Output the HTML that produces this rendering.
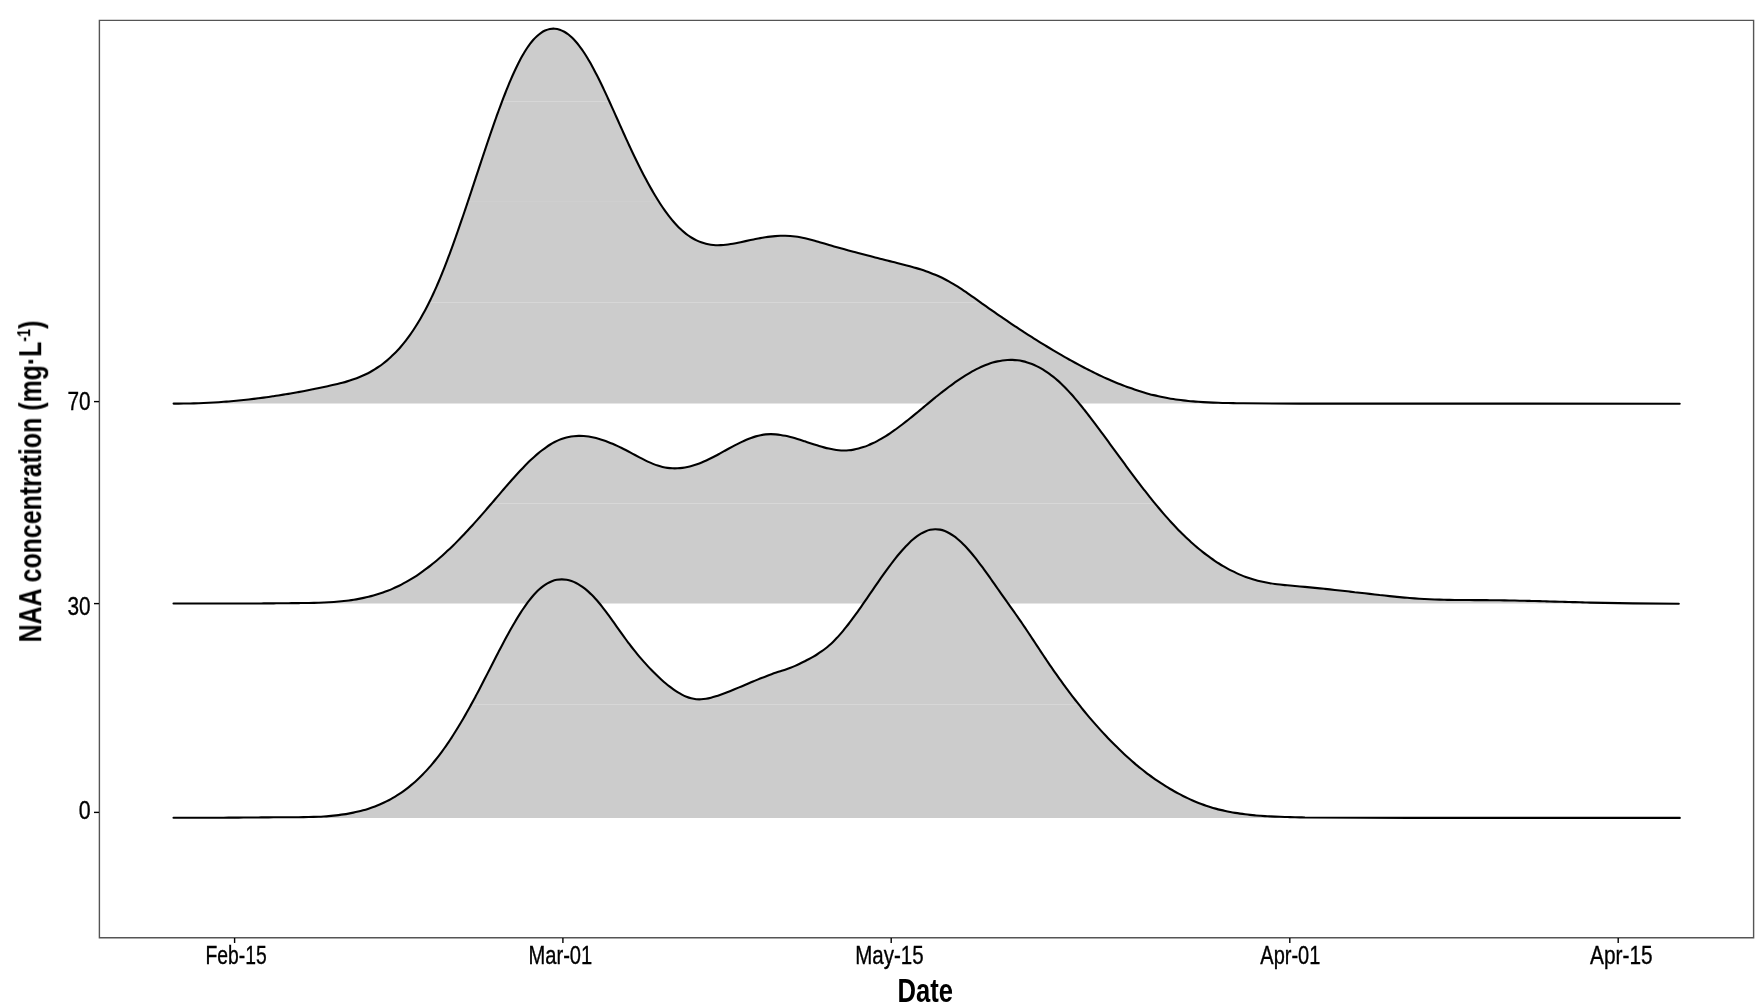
<!DOCTYPE html>
<html><head><meta charset="utf-8"><style>
html,body{margin:0;padding:0;background:#fff;width:1763px;height:1004px;overflow:hidden}
svg{display:block}
text{font-family:"Liberation Sans", sans-serif;fill:#000}
.t{will-change:transform}
</style></head><body>
<svg width="1763" height="1004" viewBox="0 0 1763 1004">
<defs>
<path id="ft" d="M173.60,403.60 C174.44,403.60 176.94,403.60 178.61,403.60 C180.28,403.60 181.95,403.59 183.62,403.57 C185.29,403.55 186.97,403.53 188.64,403.50 C190.31,403.46 191.98,403.43 193.65,403.38 C195.32,403.33 196.99,403.28 198.66,403.22 C200.33,403.16 202.00,403.09 203.66,403.02 C205.33,402.95 207.00,402.87 208.67,402.78 C210.34,402.69 212.01,402.60 213.68,402.50 C215.34,402.40 217.01,402.29 218.68,402.18 C220.34,402.07 222.01,401.95 223.68,401.82 C225.34,401.70 227.01,401.57 228.67,401.43 C230.34,401.29 232.00,401.14 233.67,400.99 C235.33,400.84 236.99,400.68 238.66,400.52 C240.32,400.36 241.98,400.19 243.64,400.01 C245.30,399.83 246.96,399.65 248.62,399.46 C250.28,399.27 251.94,399.08 253.60,398.88 C255.26,398.68 256.92,398.47 258.58,398.26 C260.23,398.05 261.89,397.83 263.55,397.61 C265.20,397.39 266.86,397.16 268.51,396.92 C270.17,396.69 271.82,396.45 273.47,396.20 C275.12,395.95 276.78,395.70 278.43,395.45 C280.08,395.19 281.73,394.93 283.38,394.66 C285.03,394.39 286.67,394.12 288.32,393.84 C289.97,393.56 291.61,393.27 293.26,392.98 C294.91,392.69 296.55,392.40 298.19,392.10 C299.84,391.80 301.48,391.49 303.12,391.18 C304.76,390.87 306.40,390.56 308.04,390.24 C309.68,389.92 311.32,389.59 312.96,389.26 C314.60,388.93 316.23,388.60 317.87,388.26 C319.51,387.92 321.14,387.57 322.77,387.22 C324.41,386.88 326.04,386.52 327.67,386.16 C329.30,385.80 330.94,385.44 332.56,385.07 C334.19,384.70 335.82,384.32 337.45,383.93 C339.07,383.54 340.69,383.14 342.31,382.71 C343.92,382.28 345.53,381.84 347.14,381.37 C348.74,380.89 350.34,380.40 351.92,379.87 C353.51,379.35 355.08,378.80 356.65,378.21 C358.21,377.62 359.76,377.00 361.30,376.34 C362.83,375.69 364.36,374.99 365.86,374.26 C367.36,373.54 368.85,372.77 370.31,371.97 C371.78,371.17 373.22,370.32 374.65,369.45 C376.07,368.57 377.47,367.66 378.85,366.72 C380.22,365.77 381.58,364.79 382.90,363.77 C384.23,362.76 385.54,361.72 386.82,360.64 C388.10,359.57 389.35,358.46 390.58,357.33 C391.81,356.20 393.01,355.04 394.20,353.86 C395.38,352.68 396.53,351.47 397.67,350.25 C398.80,349.02 399.91,347.77 401.00,346.50 C402.09,345.24 403.15,343.95 404.20,342.64 C405.24,341.34 406.27,340.02 407.27,338.68 C408.27,337.35 409.25,336.00 410.22,334.63 C411.19,333.27 412.13,331.89 413.06,330.50 C413.99,329.12 414.90,327.71 415.79,326.30 C416.69,324.89 417.57,323.47 418.43,322.04 C419.29,320.61 420.14,319.17 420.97,317.72 C421.80,316.27 422.62,314.82 423.43,313.35 C424.23,311.89 425.02,310.41 425.80,308.94 C426.58,307.46 427.35,305.97 428.10,304.48 C428.86,302.99 429.60,301.49 430.33,299.99 C431.06,298.49 431.78,296.98 432.49,295.47 C433.20,293.96 433.90,292.44 434.59,290.92 C435.28,289.40 435.96,287.87 436.63,286.34 C437.30,284.81 437.96,283.27 438.61,281.74 C439.26,280.20 439.91,278.66 440.55,277.11 C441.18,275.57 441.81,274.02 442.44,272.47 C443.06,270.92 443.68,269.37 444.29,267.82 C444.90,266.26 445.51,264.70 446.11,263.14 C446.71,261.59 447.31,260.02 447.90,258.46 C448.49,256.90 449.08,255.33 449.66,253.77 C450.24,252.20 450.82,250.64 451.39,249.07 C451.97,247.50 452.54,245.93 453.11,244.36 C453.67,242.78 454.24,241.21 454.80,239.64 C455.36,238.06 455.92,236.49 456.47,234.91 C457.03,233.34 457.58,231.76 458.13,230.18 C458.68,228.61 459.23,227.03 459.77,225.45 C460.32,223.87 460.86,222.29 461.40,220.71 C461.95,219.13 462.49,217.55 463.02,215.97 C463.56,214.38 464.10,212.80 464.63,211.22 C465.17,209.64 465.70,208.05 466.23,206.47 C466.77,204.89 467.30,203.30 467.83,201.72 C468.36,200.13 468.89,198.55 469.41,196.96 C469.94,195.38 470.47,193.79 471.00,192.21 C471.52,190.62 472.05,189.04 472.57,187.45 C473.10,185.86 473.62,184.28 474.15,182.69 C474.67,181.11 475.20,179.52 475.72,177.93 C476.25,176.35 476.77,174.76 477.30,173.17 C477.82,171.59 478.35,170.00 478.87,168.42 C479.40,166.83 479.92,165.24 480.45,163.66 C480.97,162.07 481.50,160.49 482.02,158.90 C482.55,157.31 483.08,155.73 483.61,154.14 C484.14,152.56 484.67,150.97 485.20,149.39 C485.73,147.81 486.26,146.22 486.79,144.64 C487.33,143.06 487.86,141.47 488.40,139.89 C488.93,138.31 489.47,136.73 490.01,135.15 C490.55,133.57 491.10,131.99 491.64,130.41 C492.19,128.83 492.73,127.25 493.29,125.67 C493.84,124.09 494.39,122.52 494.95,120.94 C495.50,119.37 496.06,117.79 496.62,116.22 C497.19,114.65 497.75,113.07 498.33,111.50 C498.90,109.93 499.47,108.37 500.05,106.80 C500.63,105.23 501.21,103.67 501.80,102.10 C502.39,100.54 502.99,98.98 503.59,97.42 C504.19,95.86 504.79,94.30 505.41,92.75 C506.02,91.19 506.64,89.64 507.27,88.09 C507.89,86.55 508.53,85.00 509.17,83.46 C509.82,81.92 510.47,80.38 511.13,78.84 C511.79,77.31 512.46,75.78 513.15,74.26 C513.83,72.73 514.52,71.21 515.23,69.70 C515.94,68.19 516.66,66.68 517.40,65.18 C518.14,63.68 518.89,62.19 519.67,60.71 C520.44,59.23 521.23,57.76 522.05,56.30 C522.87,54.84 523.70,53.39 524.57,51.97 C525.44,50.54 526.33,49.13 527.27,47.75 C528.21,46.36 529.17,45.00 530.19,43.67 C531.21,42.35 532.25,41.04 533.36,39.80 C534.48,38.55 535.64,37.34 536.87,36.22 C538.11,35.10 539.39,34.00 540.76,33.06 C542.13,32.12 543.58,31.24 545.10,30.56 C546.61,29.89 548.23,29.32 549.85,29.01 C551.47,28.71 553.19,28.60 554.83,28.71 C556.48,28.83 558.16,29.19 559.73,29.70 C561.31,30.21 562.84,30.95 564.29,31.75 C565.75,32.56 567.13,33.53 568.45,34.54 C569.78,35.55 571.02,36.68 572.23,37.83 C573.43,38.99 574.58,40.21 575.69,41.46 C576.80,42.71 577.85,44.01 578.87,45.33 C579.90,46.64 580.89,47.99 581.85,49.36 C582.81,50.73 583.73,52.12 584.64,53.52 C585.55,54.92 586.43,56.34 587.29,57.77 C588.16,59.20 589.00,60.65 589.83,62.10 C590.66,63.55 591.47,65.01 592.28,66.47 C593.08,67.94 593.86,69.41 594.64,70.89 C595.42,72.37 596.18,73.85 596.94,75.34 C597.70,76.83 598.45,78.33 599.19,79.83 C599.93,81.32 600.66,82.82 601.39,84.33 C602.11,85.83 602.83,87.34 603.55,88.85 C604.26,90.36 604.97,91.87 605.68,93.39 C606.38,94.90 607.08,96.42 607.78,97.94 C608.48,99.46 609.17,100.98 609.86,102.50 C610.55,104.02 611.24,105.54 611.93,107.07 C612.61,108.59 613.30,110.11 613.98,111.64 C614.66,113.16 615.34,114.69 616.03,116.21 C616.71,117.74 617.39,119.26 618.07,120.79 C618.75,122.31 619.43,123.84 620.11,125.37 C620.80,126.89 621.48,128.42 622.16,129.94 C622.85,131.46 623.53,132.99 624.22,134.51 C624.91,136.03 625.60,137.55 626.29,139.08 C626.98,140.60 627.68,142.11 628.38,143.63 C629.08,145.15 629.78,146.66 630.49,148.18 C631.20,149.69 631.91,151.20 632.62,152.71 C633.34,154.22 634.06,155.73 634.79,157.23 C635.51,158.74 636.24,160.24 636.98,161.74 C637.72,163.24 638.46,164.74 639.21,166.23 C639.95,167.73 640.71,169.22 641.47,170.70 C642.23,172.19 642.99,173.68 643.77,175.16 C644.54,176.64 645.32,178.11 646.11,179.59 C646.90,181.06 647.70,182.53 648.51,183.99 C649.31,185.45 650.13,186.91 650.95,188.37 C651.78,189.82 652.61,191.27 653.46,192.71 C654.30,194.15 655.16,195.58 656.03,197.01 C656.89,198.44 657.77,199.86 658.67,201.27 C659.56,202.68 660.47,204.08 661.39,205.48 C662.32,206.87 663.26,208.25 664.21,209.62 C665.17,210.99 666.14,212.35 667.14,213.69 C668.13,215.03 669.15,216.36 670.18,217.67 C671.22,218.98 672.28,220.27 673.37,221.54 C674.46,222.80 675.57,224.05 676.72,225.27 C677.87,226.48 679.04,227.67 680.26,228.82 C681.47,229.97 682.71,231.08 684.00,232.15 C685.28,233.22 686.59,234.26 687.95,235.23 C689.30,236.21 690.70,237.13 692.13,238.00 C693.56,238.86 695.03,239.67 696.53,240.40 C698.03,241.12 699.58,241.77 701.14,242.35 C702.71,242.92 704.31,243.42 705.93,243.82 C707.55,244.22 709.20,244.52 710.85,244.75 C712.50,244.98 714.18,245.12 715.84,245.18 C717.51,245.25 719.19,245.22 720.85,245.15 C722.52,245.07 724.19,244.93 725.85,244.75 C727.51,244.57 729.16,244.32 730.81,244.06 C732.46,243.80 734.11,243.49 735.75,243.18 C737.39,242.86 739.02,242.52 740.66,242.17 C742.29,241.83 743.92,241.47 745.56,241.12 C747.19,240.77 748.82,240.42 750.46,240.08 C752.10,239.74 753.73,239.40 755.37,239.08 C757.01,238.76 758.65,238.44 760.30,238.15 C761.94,237.86 763.59,237.57 765.24,237.32 C766.89,237.07 768.55,236.83 770.20,236.63 C771.86,236.43 773.52,236.25 775.19,236.11 C776.85,235.97 778.52,235.86 780.19,235.80 C781.86,235.74 783.53,235.71 785.20,235.73 C786.87,235.75 788.54,235.82 790.21,235.94 C791.87,236.06 793.54,236.23 795.19,236.45 C796.85,236.67 798.50,236.94 800.14,237.24 C801.78,237.55 803.42,237.90 805.05,238.27 C806.68,238.64 808.30,239.05 809.92,239.46 C811.53,239.88 813.14,240.33 814.75,240.78 C816.36,241.23 817.96,241.71 819.57,242.18 C821.17,242.64 822.77,243.13 824.37,243.60 C825.97,244.07 827.58,244.54 829.18,245.01 C830.79,245.48 832.39,245.94 834.00,246.40 C835.60,246.85 837.21,247.31 838.82,247.76 C840.43,248.21 842.04,248.66 843.65,249.10 C845.26,249.54 846.87,249.98 848.49,250.42 C850.10,250.86 851.71,251.29 853.33,251.72 C854.94,252.16 856.55,252.59 858.17,253.01 C859.78,253.44 861.40,253.86 863.02,254.29 C864.63,254.71 866.25,255.13 867.87,255.55 C869.49,255.96 871.10,256.38 872.72,256.80 C874.34,257.21 875.96,257.63 877.58,258.04 C879.20,258.45 880.82,258.86 882.44,259.27 C884.05,259.69 885.67,260.10 887.29,260.50 C888.91,260.91 890.53,261.32 892.15,261.73 C893.77,262.14 895.39,262.55 897.01,262.96 C898.63,263.37 900.25,263.78 901.87,264.19 C903.49,264.61 905.11,265.02 906.72,265.45 C908.34,265.88 909.95,266.31 911.56,266.76 C913.17,267.20 914.78,267.66 916.38,268.13 C917.98,268.61 919.58,269.10 921.17,269.61 C922.76,270.11 924.35,270.64 925.93,271.19 C927.51,271.74 929.08,272.31 930.64,272.90 C932.20,273.50 933.75,274.12 935.29,274.76 C936.83,275.41 938.36,276.08 939.88,276.78 C941.40,277.48 942.90,278.21 944.39,278.96 C945.88,279.72 947.36,280.50 948.82,281.31 C950.28,282.12 951.72,282.96 953.16,283.82 C954.59,284.68 956.01,285.56 957.42,286.45 C958.84,287.34 960.24,288.26 961.63,289.18 C963.02,290.10 964.41,291.04 965.79,291.98 C967.16,292.92 968.54,293.88 969.90,294.83 C971.27,295.79 972.64,296.76 974.00,297.73 C975.36,298.69 976.72,299.67 978.08,300.64 C979.44,301.61 980.80,302.58 982.16,303.55 C983.52,304.52 984.88,305.49 986.24,306.45 C987.61,307.42 988.97,308.38 990.34,309.34 C991.71,310.30 993.08,311.26 994.45,312.21 C995.82,313.16 997.19,314.12 998.57,315.06 C999.95,316.01 1001.32,316.96 1002.70,317.90 C1004.08,318.84 1005.46,319.78 1006.85,320.72 C1008.23,321.66 1009.62,322.59 1011.00,323.52 C1012.39,324.45 1013.78,325.38 1015.17,326.30 C1016.56,327.23 1017.96,328.15 1019.36,329.06 C1020.75,329.98 1022.15,330.89 1023.55,331.80 C1024.95,332.71 1026.36,333.62 1027.76,334.52 C1029.17,335.43 1030.58,336.33 1031.99,337.22 C1033.40,338.12 1034.81,339.01 1036.23,339.90 C1037.64,340.78 1039.06,341.67 1040.48,342.55 C1041.90,343.42 1043.32,344.30 1044.75,345.17 C1046.18,346.04 1047.60,346.91 1049.04,347.77 C1050.47,348.63 1051.90,349.49 1053.34,350.34 C1054.77,351.20 1056.21,352.05 1057.65,352.89 C1059.10,353.73 1060.54,354.57 1061.99,355.41 C1063.43,356.24 1064.89,357.07 1066.34,357.90 C1067.79,358.72 1069.25,359.54 1070.71,360.35 C1072.17,361.16 1073.63,361.97 1075.10,362.77 C1076.57,363.57 1078.04,364.36 1079.51,365.15 C1080.98,365.93 1082.46,366.71 1083.94,367.49 C1085.43,368.26 1086.91,369.02 1088.40,369.78 C1089.89,370.54 1091.38,371.29 1092.88,372.03 C1094.38,372.77 1095.88,373.50 1097.39,374.22 C1098.89,374.95 1100.40,375.66 1101.92,376.37 C1103.43,377.07 1104.95,377.77 1106.48,378.45 C1108.00,379.13 1109.53,379.81 1111.06,380.47 C1112.60,381.13 1114.13,381.79 1115.68,382.43 C1117.22,383.07 1118.77,383.70 1120.32,384.31 C1121.87,384.93 1123.43,385.54 1124.99,386.13 C1126.56,386.72 1128.12,387.29 1129.70,387.86 C1131.27,388.42 1132.85,388.97 1134.43,389.50 C1136.01,390.04 1137.60,390.56 1139.19,391.06 C1140.79,391.56 1142.39,392.05 1143.99,392.53 C1145.59,393.00 1147.20,393.45 1148.81,393.89 C1150.42,394.32 1152.04,394.74 1153.66,395.14 C1155.29,395.54 1156.91,395.92 1158.54,396.29 C1160.17,396.65 1161.81,396.99 1163.45,397.32 C1165.09,397.64 1166.73,397.95 1168.38,398.24 C1170.02,398.53 1171.67,398.80 1173.32,399.06 C1174.97,399.32 1176.62,399.56 1178.28,399.78 C1179.94,400.01 1181.59,400.22 1183.25,400.41 C1184.91,400.61 1186.57,400.79 1188.23,400.96 C1189.90,401.13 1191.56,401.28 1193.22,401.42 C1194.89,401.57 1196.56,401.70 1198.22,401.82 C1199.89,401.94 1201.56,402.05 1203.22,402.15 C1204.89,402.25 1206.56,402.34 1208.23,402.42 C1209.90,402.50 1211.57,402.57 1213.23,402.64 C1214.90,402.70 1216.57,402.76 1218.24,402.81 C1219.91,402.87 1221.58,402.91 1223.25,402.95 C1224.92,403.00 1226.59,403.03 1228.27,403.07 C1229.94,403.10 1231.61,403.13 1233.28,403.16 C1234.95,403.18 1236.62,403.21 1238.29,403.23 C1239.96,403.26 1242.46,403.29 1243.30,403.30 L1300.00,403.60 L1679.70,403.70 L1679.7,403.6 L173.6,403.6 Z"/><path id="fm" d="M173.50,603.50 C174.34,603.50 176.84,603.50 178.51,603.50 C180.18,603.50 181.86,603.50 183.53,603.50 C185.20,603.50 186.87,603.50 188.54,603.50 C190.21,603.50 191.88,603.50 193.55,603.50 C195.23,603.50 196.90,603.50 198.57,603.50 C200.24,603.50 201.91,603.50 203.58,603.50 C205.25,603.50 206.92,603.50 208.59,603.50 C210.27,603.50 211.94,603.50 213.61,603.50 C215.28,603.50 216.95,603.50 218.62,603.50 C220.29,603.50 221.96,603.50 223.64,603.50 C225.31,603.50 226.98,603.50 228.65,603.50 C230.32,603.50 231.99,603.50 233.66,603.50 C235.33,603.50 237.00,603.50 238.68,603.50 C240.35,603.50 242.02,603.50 243.69,603.50 C245.36,603.50 247.03,603.50 248.70,603.50 C250.37,603.50 252.05,603.49 253.72,603.48 C255.39,603.47 257.06,603.46 258.73,603.45 C260.40,603.44 262.07,603.43 263.74,603.42 C265.41,603.40 267.09,603.39 268.76,603.38 C270.43,603.37 272.10,603.35 273.77,603.34 C275.44,603.33 277.11,603.31 278.78,603.30 C280.45,603.28 282.13,603.26 283.80,603.25 C285.47,603.23 287.14,603.21 288.81,603.20 C290.48,603.18 292.15,603.16 293.82,603.14 C295.49,603.12 297.17,603.10 298.84,603.08 C300.51,603.06 302.18,603.05 303.85,603.02 C305.52,603.00 307.19,602.98 308.86,602.95 C310.53,602.92 312.20,602.89 313.88,602.85 C315.55,602.81 317.22,602.76 318.89,602.71 C320.56,602.65 322.23,602.59 323.90,602.52 C325.57,602.45 327.24,602.37 328.90,602.28 C330.57,602.18 332.24,602.08 333.91,601.96 C335.57,601.84 337.24,601.70 338.90,601.55 C340.57,601.40 342.23,601.24 343.89,601.06 C345.55,600.87 347.21,600.67 348.87,600.45 C350.53,600.23 352.18,599.99 353.83,599.73 C355.48,599.47 357.13,599.19 358.77,598.89 C360.42,598.58 362.06,598.25 363.69,597.90 C365.32,597.55 366.95,597.18 368.58,596.78 C370.20,596.38 371.82,595.96 373.42,595.51 C375.03,595.06 376.64,594.58 378.23,594.08 C379.82,593.58 381.41,593.05 382.99,592.50 C384.56,591.94 386.13,591.36 387.69,590.75 C389.24,590.14 390.79,589.51 392.32,588.85 C393.86,588.19 395.38,587.50 396.89,586.78 C398.40,586.07 399.90,585.33 401.39,584.56 C402.87,583.80 404.34,583.00 405.80,582.19 C407.26,581.37 408.71,580.53 410.14,579.67 C411.57,578.81 412.99,577.93 414.40,577.03 C415.81,576.13 417.20,575.21 418.58,574.27 C419.96,573.33 421.33,572.37 422.69,571.39 C424.05,570.42 425.39,569.43 426.73,568.42 C428.06,567.42 429.39,566.39 430.70,565.36 C432.01,564.32 433.31,563.27 434.60,562.21 C435.89,561.15 437.17,560.07 438.44,558.98 C439.70,557.90 440.96,556.79 442.21,555.68 C443.46,554.57 444.70,553.45 445.93,552.32 C447.16,551.19 448.37,550.04 449.59,548.89 C450.80,547.74 452.00,546.58 453.19,545.41 C454.38,544.24 455.57,543.06 456.75,541.87 C457.92,540.69 459.09,539.49 460.26,538.29 C461.42,537.09 462.57,535.88 463.72,534.67 C464.87,533.46 466.02,532.24 467.16,531.02 C468.29,529.79 469.43,528.57 470.56,527.33 C471.68,526.10 472.81,524.86 473.92,523.62 C475.04,522.38 476.16,521.13 477.27,519.88 C478.38,518.64 479.48,517.38 480.59,516.13 C481.69,514.87 482.79,513.61 483.89,512.35 C484.99,511.09 486.08,509.83 487.17,508.56 C488.26,507.30 489.35,506.03 490.44,504.76 C491.53,503.49 492.61,502.22 493.70,500.95 C494.78,499.68 495.87,498.41 496.95,497.14 C498.03,495.86 499.12,494.59 500.20,493.32 C501.29,492.05 502.37,490.78 503.46,489.51 C504.55,488.25 505.64,486.98 506.74,485.72 C507.83,484.45 508.93,483.19 510.03,481.94 C511.14,480.68 512.24,479.43 513.36,478.18 C514.47,476.94 515.59,475.70 516.72,474.46 C517.84,473.23 518.98,472.00 520.12,470.78 C521.26,469.56 522.41,468.35 523.58,467.15 C524.74,465.95 525.91,464.76 527.10,463.58 C528.28,462.40 529.48,461.24 530.69,460.09 C531.91,458.94 533.13,457.80 534.37,456.68 C535.62,455.57 536.88,454.47 538.16,453.40 C539.44,452.32 540.74,451.27 542.06,450.25 C543.38,449.23 544.73,448.23 546.10,447.27 C547.47,446.32 548.86,445.39 550.28,444.51 C551.70,443.64 553.16,442.80 554.64,442.04 C556.12,441.27 557.63,440.54 559.17,439.90 C560.71,439.26 562.29,438.69 563.88,438.19 C565.48,437.70 567.10,437.27 568.73,436.94 C570.37,436.60 572.03,436.35 573.69,436.17 C575.34,435.99 577.02,435.88 578.69,435.86 C580.36,435.83 582.03,435.89 583.70,436.00 C585.36,436.12 587.03,436.31 588.68,436.55 C590.33,436.80 591.97,437.11 593.61,437.47 C595.24,437.83 596.86,438.24 598.47,438.69 C600.07,439.15 601.67,439.66 603.25,440.19 C604.83,440.73 606.40,441.30 607.96,441.90 C609.52,442.51 611.07,443.15 612.60,443.81 C614.14,444.46 615.66,445.15 617.18,445.86 C618.69,446.56 620.20,447.29 621.69,448.03 C623.19,448.77 624.68,449.53 626.17,450.29 C627.65,451.06 629.13,451.84 630.60,452.63 C632.08,453.42 633.54,454.22 635.02,455.01 C636.49,455.80 637.96,456.59 639.44,457.37 C640.92,458.15 642.40,458.93 643.89,459.68 C645.38,460.43 646.88,461.16 648.40,461.86 C649.92,462.56 651.45,463.24 653.00,463.86 C654.55,464.48 656.11,465.08 657.70,465.59 C659.29,466.11 660.90,466.58 662.53,466.95 C664.15,467.33 665.80,467.64 667.45,467.87 C669.11,468.09 670.78,468.24 672.45,468.31 C674.11,468.38 675.79,468.37 677.46,468.29 C679.12,468.21 680.79,468.06 682.45,467.84 C684.10,467.62 685.75,467.34 687.39,466.99 C689.02,466.65 690.65,466.24 692.25,465.79 C693.86,465.33 695.45,464.82 697.03,464.27 C698.61,463.72 700.17,463.12 701.71,462.49 C703.26,461.85 704.79,461.17 706.31,460.48 C707.83,459.78 709.33,459.04 710.82,458.30 C712.32,457.55 713.80,456.78 715.28,456.00 C716.76,455.22 718.22,454.42 719.69,453.62 C721.16,452.82 722.62,452.01 724.08,451.20 C725.55,450.40 727.01,449.58 728.47,448.78 C729.94,447.98 731.41,447.18 732.88,446.39 C734.35,445.60 735.83,444.82 737.32,444.07 C738.81,443.31 740.31,442.56 741.82,441.85 C743.33,441.14 744.85,440.44 746.39,439.79 C747.93,439.14 749.48,438.51 751.05,437.94 C752.62,437.37 754.21,436.84 755.81,436.38 C757.42,435.91 759.04,435.49 760.67,435.16 C762.31,434.83 763.97,434.58 765.63,434.41 C767.29,434.24 768.96,434.15 770.63,434.14 C772.30,434.13 773.98,434.21 775.64,434.34 C777.30,434.47 778.97,434.67 780.62,434.92 C782.27,435.17 783.91,435.49 785.55,435.83 C787.18,436.17 788.81,436.57 790.43,436.99 C792.04,437.40 793.65,437.86 795.25,438.33 C796.86,438.80 798.45,439.30 800.05,439.81 C801.64,440.31 803.22,440.84 804.81,441.36 C806.40,441.89 807.98,442.42 809.57,442.95 C811.16,443.47 812.74,444.00 814.33,444.51 C815.92,445.02 817.52,445.53 819.12,446.01 C820.72,446.48 822.33,446.95 823.94,447.38 C825.55,447.81 827.18,448.22 828.81,448.58 C830.44,448.94 832.08,449.26 833.73,449.53 C835.38,449.80 837.04,450.03 838.70,450.18 C840.36,450.34 842.03,450.43 843.70,450.45 C845.37,450.46 847.05,450.41 848.71,450.28 C850.38,450.14 852.04,449.91 853.68,449.62 C855.33,449.33 856.96,448.98 858.58,448.56 C860.19,448.14 861.79,447.64 863.38,447.11 C864.96,446.57 866.53,445.98 868.07,445.35 C869.62,444.72 871.14,444.03 872.65,443.32 C874.16,442.61 875.66,441.85 877.13,441.07 C878.61,440.29 880.07,439.46 881.51,438.62 C882.95,437.78 884.38,436.91 885.80,436.02 C887.21,435.13 888.61,434.22 890.00,433.29 C891.38,432.35 892.76,431.41 894.12,430.44 C895.49,429.48 896.84,428.49 898.19,427.50 C899.53,426.51 900.87,425.50 902.19,424.49 C903.52,423.47 904.84,422.44 906.15,421.41 C907.46,420.38 908.77,419.33 910.07,418.29 C911.37,417.24 912.67,416.18 913.96,415.13 C915.26,414.07 916.55,413.01 917.84,411.94 C919.13,410.88 920.41,409.81 921.70,408.75 C922.99,407.68 924.27,406.61 925.56,405.54 C926.84,404.48 928.13,403.41 929.42,402.35 C930.71,401.28 932.00,400.22 933.29,399.16 C934.59,398.11 935.88,397.05 937.19,396.01 C938.49,394.96 939.80,393.92 941.11,392.88 C942.42,391.85 943.74,390.82 945.06,389.80 C946.39,388.78 947.72,387.77 949.05,386.77 C950.39,385.77 951.74,384.78 953.10,383.80 C954.45,382.82 955.81,381.85 957.19,380.90 C958.56,379.95 959.95,379.02 961.34,378.10 C962.74,377.18 964.14,376.27 965.56,375.39 C966.98,374.51 968.41,373.65 969.86,372.81 C971.31,371.97 972.76,371.15 974.24,370.37 C975.71,369.58 977.20,368.82 978.71,368.10 C980.21,367.37 981.73,366.68 983.27,366.02 C984.81,365.37 986.36,364.75 987.93,364.18 C989.50,363.61 991.09,363.08 992.69,362.61 C994.29,362.14 995.91,361.71 997.54,361.35 C999.17,360.99 1000.82,360.68 1002.47,360.44 C1004.13,360.21 1005.79,360.04 1007.46,359.94 C1009.13,359.85 1010.80,359.82 1012.47,359.88 C1014.14,359.94 1015.81,360.07 1017.47,360.28 C1019.12,360.48 1020.78,360.77 1022.41,361.13 C1024.04,361.48 1025.66,361.91 1027.25,362.40 C1028.85,362.89 1030.43,363.45 1031.98,364.06 C1033.53,364.68 1035.07,365.36 1036.57,366.08 C1038.07,366.80 1039.55,367.59 1041.01,368.41 C1042.46,369.23 1043.89,370.10 1045.29,371.01 C1046.70,371.92 1048.07,372.87 1049.43,373.85 C1050.78,374.83 1052.10,375.85 1053.41,376.89 C1054.71,377.94 1055.99,379.01 1057.25,380.11 C1058.51,381.21 1059.74,382.34 1060.96,383.49 C1062.17,384.64 1063.36,385.81 1064.54,387.00 C1065.71,388.18 1066.87,389.39 1068.01,390.61 C1069.16,391.83 1070.28,393.06 1071.40,394.31 C1072.51,395.55 1073.61,396.81 1074.70,398.08 C1075.79,399.35 1076.87,400.62 1077.94,401.91 C1079.01,403.19 1080.07,404.49 1081.12,405.78 C1082.17,407.08 1083.21,408.39 1084.25,409.70 C1085.29,411.01 1086.32,412.33 1087.34,413.65 C1088.37,414.97 1089.38,416.29 1090.40,417.62 C1091.41,418.95 1092.42,420.28 1093.43,421.61 C1094.44,422.95 1095.44,424.28 1096.44,425.62 C1097.44,426.96 1098.44,428.30 1099.44,429.64 C1100.44,430.98 1101.43,432.32 1102.42,433.67 C1103.42,435.01 1104.41,436.36 1105.40,437.70 C1106.39,439.05 1107.38,440.40 1108.37,441.74 C1109.36,443.09 1110.34,444.44 1111.33,445.79 C1112.32,447.14 1113.30,448.49 1114.29,449.84 C1115.28,451.18 1116.26,452.53 1117.25,453.88 C1118.24,455.23 1119.22,456.58 1120.21,457.93 C1121.20,459.27 1122.19,460.62 1123.18,461.97 C1124.17,463.32 1125.16,464.66 1126.15,466.01 C1127.14,467.35 1128.14,468.69 1129.13,470.04 C1130.13,471.38 1131.13,472.72 1132.13,474.06 C1133.13,475.40 1134.13,476.73 1135.13,478.07 C1136.14,479.40 1137.15,480.74 1138.16,482.07 C1139.17,483.40 1140.18,484.73 1141.20,486.05 C1142.22,487.38 1143.24,488.70 1144.27,490.02 C1145.29,491.34 1146.32,492.65 1147.36,493.97 C1148.39,495.28 1149.43,496.59 1150.48,497.89 C1151.52,499.19 1152.57,500.49 1153.63,501.79 C1154.69,503.09 1155.75,504.38 1156.81,505.66 C1157.88,506.95 1158.95,508.23 1160.03,509.51 C1161.11,510.78 1162.20,512.05 1163.29,513.32 C1164.38,514.58 1165.48,515.84 1166.59,517.09 C1167.70,518.34 1168.81,519.59 1169.93,520.83 C1171.06,522.07 1172.18,523.30 1173.32,524.52 C1174.46,525.74 1175.61,526.96 1176.77,528.16 C1177.92,529.37 1179.09,530.57 1180.26,531.76 C1181.44,532.95 1182.63,534.12 1183.82,535.29 C1185.02,536.46 1186.22,537.62 1187.44,538.76 C1188.66,539.90 1189.89,541.04 1191.13,542.16 C1192.37,543.28 1193.61,544.39 1194.88,545.48 C1196.14,546.58 1197.41,547.66 1198.70,548.73 C1199.99,549.79 1201.28,550.85 1202.59,551.89 C1203.90,552.92 1205.23,553.95 1206.56,554.95 C1207.90,555.96 1209.24,556.95 1210.60,557.92 C1211.96,558.89 1213.34,559.84 1214.72,560.77 C1216.11,561.70 1217.51,562.62 1218.92,563.51 C1220.33,564.40 1221.76,565.28 1223.20,566.12 C1224.64,566.97 1226.09,567.80 1227.56,568.60 C1229.02,569.40 1230.51,570.18 1232.00,570.93 C1233.49,571.68 1235.00,572.41 1236.51,573.11 C1238.03,573.81 1239.57,574.47 1241.11,575.11 C1242.65,575.75 1244.21,576.36 1245.78,576.94 C1247.35,577.52 1248.93,578.06 1250.52,578.57 C1252.11,579.09 1253.71,579.56 1255.32,580.01 C1256.93,580.45 1258.55,580.86 1260.18,581.24 C1261.81,581.62 1263.44,581.97 1265.08,582.29 C1266.72,582.61 1268.37,582.91 1270.02,583.18 C1271.66,583.45 1273.32,583.70 1274.97,583.93 C1276.63,584.16 1278.29,584.36 1279.95,584.56 C1281.61,584.75 1283.27,584.93 1284.93,585.10 C1286.59,585.27 1288.26,585.42 1289.92,585.57 C1291.59,585.73 1293.25,585.87 1294.92,586.02 C1296.58,586.16 1298.25,586.30 1299.91,586.45 C1301.58,586.60 1303.24,586.75 1304.90,586.90 C1306.57,587.05 1308.23,587.21 1309.90,587.37 C1311.56,587.52 1313.22,587.69 1314.89,587.85 C1316.55,588.01 1318.21,588.18 1319.87,588.35 C1321.54,588.52 1323.20,588.69 1324.86,588.87 C1326.52,589.04 1328.19,589.22 1329.85,589.39 C1331.51,589.57 1333.17,589.75 1334.83,589.93 C1336.49,590.11 1338.15,590.30 1339.81,590.48 C1341.48,590.66 1343.14,590.85 1344.80,591.04 C1346.46,591.22 1348.12,591.41 1349.78,591.60 C1351.44,591.79 1353.10,591.98 1354.76,592.17 C1356.42,592.36 1358.08,592.55 1359.74,592.74 C1361.40,592.93 1363.06,593.13 1364.72,593.32 C1366.38,593.51 1368.04,593.70 1369.70,593.89 C1371.36,594.08 1373.02,594.27 1374.68,594.46 C1376.34,594.65 1378.00,594.84 1379.66,595.03 C1381.33,595.21 1382.99,595.40 1384.65,595.58 C1386.31,595.76 1387.97,595.94 1389.63,596.11 C1391.30,596.29 1392.96,596.46 1394.62,596.62 C1396.28,596.79 1397.95,596.96 1399.61,597.11 C1401.27,597.27 1402.94,597.43 1404.60,597.58 C1406.27,597.72 1407.93,597.87 1409.60,598.00 C1411.26,598.14 1412.93,598.27 1414.60,598.40 C1416.26,598.52 1417.93,598.64 1419.60,598.75 C1421.26,598.85 1422.93,598.96 1424.60,599.05 C1426.27,599.14 1427.94,599.23 1429.61,599.30 C1431.28,599.38 1432.95,599.45 1434.62,599.51 C1436.29,599.57 1437.96,599.63 1439.63,599.67 C1441.30,599.72 1442.97,599.76 1444.64,599.80 C1446.31,599.83 1447.98,599.86 1449.65,599.89 C1451.32,599.92 1452.99,599.94 1454.67,599.96 C1456.34,599.98 1458.01,599.99 1459.68,600.00 C1461.35,600.02 1463.02,600.03 1464.69,600.04 C1466.36,600.05 1468.04,600.05 1469.71,600.06 C1471.38,600.07 1473.05,600.07 1474.72,600.08 C1476.39,600.09 1478.06,600.09 1479.73,600.10 C1481.40,600.11 1483.08,600.12 1484.75,600.14 C1486.42,600.15 1488.09,600.16 1489.76,600.18 C1491.43,600.20 1493.10,600.22 1494.77,600.24 C1496.44,600.26 1498.12,600.28 1499.79,600.31 C1501.46,600.33 1503.13,600.36 1504.80,600.39 C1506.47,600.41 1508.14,600.44 1509.81,600.47 C1511.48,600.51 1513.15,600.54 1514.82,600.57 C1516.50,600.61 1518.17,600.64 1519.84,600.68 C1521.51,600.71 1523.18,600.75 1524.85,600.79 C1526.52,600.83 1528.19,600.87 1529.86,600.91 C1531.53,600.95 1533.20,600.99 1534.87,601.04 C1536.54,601.08 1538.21,601.12 1539.89,601.17 C1541.56,601.21 1543.23,601.26 1544.90,601.30 C1546.57,601.35 1548.24,601.40 1549.91,601.44 C1551.58,601.49 1553.25,601.54 1554.92,601.59 C1556.59,601.63 1558.26,601.68 1559.93,601.73 C1561.60,601.78 1563.27,601.83 1564.94,601.88 C1566.61,601.92 1568.28,601.97 1569.95,602.02 C1571.62,602.07 1573.30,602.12 1574.97,602.17 C1576.64,602.22 1578.31,602.27 1579.98,602.31 C1581.65,602.36 1583.32,602.41 1584.99,602.46 C1586.66,602.51 1589.16,602.58 1590.00,602.60 L1632.90,603.40 L1678.80,603.70 L1678.8,603.6 L173.5,603.6 Z"/><path id="fb" d="M173.50,817.80 C174.33,817.80 176.84,817.80 178.50,817.80 C180.17,817.80 181.84,817.80 183.51,817.80 C185.17,817.80 186.84,817.80 188.51,817.80 C190.18,817.80 191.85,817.80 193.51,817.80 C195.18,817.80 196.85,817.80 198.52,817.80 C200.19,817.80 201.85,817.80 203.52,817.80 C205.19,817.80 206.86,817.80 208.52,817.80 C210.19,817.79 211.86,817.78 213.53,817.77 C215.20,817.76 216.86,817.75 218.53,817.74 C220.20,817.73 221.87,817.72 223.54,817.71 C225.20,817.70 226.87,817.69 228.54,817.67 C230.21,817.66 231.87,817.65 233.54,817.63 C235.21,817.62 236.88,817.61 238.55,817.59 C240.21,817.58 241.88,817.57 243.55,817.55 C245.22,817.54 246.88,817.52 248.55,817.51 C250.22,817.50 251.89,817.48 253.56,817.47 C255.22,817.45 256.89,817.44 258.56,817.43 C260.23,817.41 261.89,817.40 263.56,817.39 C265.23,817.38 266.90,817.36 268.57,817.35 C270.23,817.34 271.90,817.33 273.57,817.32 C275.24,817.31 276.90,817.30 278.57,817.29 C280.24,817.28 281.91,817.27 283.58,817.26 C285.24,817.25 286.91,817.25 288.58,817.24 C290.25,817.24 291.92,817.23 293.58,817.22 C295.25,817.21 296.92,817.21 298.59,817.19 C300.25,817.18 301.92,817.17 303.59,817.14 C305.26,817.12 306.93,817.09 308.59,817.06 C310.26,817.02 311.93,816.98 313.59,816.92 C315.26,816.87 316.93,816.80 318.59,816.72 C320.26,816.65 321.93,816.56 323.59,816.46 C325.26,816.35 326.92,816.24 328.58,816.10 C330.24,815.97 331.91,815.82 333.56,815.65 C335.22,815.48 336.88,815.30 338.54,815.09 C340.19,814.88 341.84,814.66 343.49,814.41 C345.14,814.16 346.79,813.89 348.43,813.60 C350.07,813.31 351.71,812.99 353.34,812.65 C354.98,812.31 356.60,811.94 358.22,811.55 C359.84,811.16 361.46,810.74 363.07,810.30 C364.67,809.85 366.27,809.38 367.86,808.88 C369.45,808.37 371.04,807.85 372.61,807.28 C374.18,806.72 375.74,806.13 377.29,805.51 C378.83,804.89 380.37,804.24 381.89,803.55 C383.41,802.87 384.92,802.15 386.41,801.41 C387.90,800.66 389.38,799.89 390.84,799.08 C392.30,798.28 393.74,797.44 395.17,796.58 C396.60,795.71 398.01,794.82 399.40,793.90 C400.79,792.98 402.16,792.03 403.52,791.06 C404.87,790.09 406.21,789.09 407.53,788.07 C408.85,787.05 410.14,786.00 411.42,784.93 C412.70,783.86 413.97,782.77 415.21,781.66 C416.45,780.55 417.68,779.41 418.88,778.26 C420.09,777.11 421.28,775.94 422.45,774.75 C423.62,773.56 424.77,772.36 425.91,771.14 C427.04,769.91 428.16,768.68 429.26,767.43 C430.37,766.17 431.45,764.91 432.52,763.63 C433.59,762.35 434.65,761.06 435.69,759.76 C436.73,758.45 437.76,757.14 438.77,755.81 C439.79,754.49 440.79,753.15 441.77,751.81 C442.76,750.47 443.74,749.11 444.70,747.75 C445.66,746.39 446.62,745.02 447.56,743.65 C448.50,742.27 449.43,740.88 450.35,739.49 C451.27,738.10 452.18,736.70 453.08,735.30 C453.98,733.90 454.87,732.49 455.75,731.07 C456.63,729.65 457.51,728.23 458.37,726.81 C459.24,725.38 460.10,723.95 460.95,722.52 C461.80,721.08 462.64,719.64 463.48,718.20 C464.31,716.76 465.14,715.31 465.97,713.86 C466.79,712.41 467.61,710.96 468.43,709.50 C469.24,708.05 470.05,706.59 470.85,705.13 C471.65,703.67 472.45,702.20 473.25,700.73 C474.04,699.27 474.83,697.80 475.62,696.33 C476.40,694.86 477.18,693.38 477.96,691.91 C478.74,690.43 479.52,688.96 480.29,687.48 C481.06,686.00 481.83,684.52 482.59,683.04 C483.36,681.55 484.12,680.07 484.88,678.59 C485.65,677.10 486.41,675.62 487.17,674.14 C487.93,672.65 488.68,671.16 489.44,669.68 C490.20,668.19 490.96,666.71 491.72,665.22 C492.48,663.74 493.24,662.25 494.00,660.77 C494.76,659.28 495.52,657.80 496.28,656.32 C497.05,654.83 497.81,653.35 498.58,651.87 C499.35,650.39 500.12,648.91 500.89,647.44 C501.67,645.96 502.44,644.48 503.23,643.01 C504.01,641.54 504.79,640.07 505.59,638.60 C506.38,637.13 507.17,635.66 507.98,634.20 C508.78,632.74 509.59,631.28 510.41,629.83 C511.22,628.38 512.05,626.93 512.88,625.48 C513.72,624.04 514.56,622.60 515.41,621.16 C516.27,619.73 517.13,618.30 518.01,616.88 C518.88,615.47 519.77,614.05 520.67,612.65 C521.58,611.25 522.49,609.86 523.43,608.48 C524.37,607.10 525.32,605.73 526.29,604.37 C527.27,603.02 528.26,601.68 529.29,600.36 C530.31,599.05 531.35,597.74 532.43,596.47 C533.51,595.20 534.62,593.95 535.77,592.75 C536.92,591.55 538.10,590.36 539.34,589.25 C540.58,588.13 541.87,587.06 543.21,586.08 C544.56,585.09 545.95,584.15 547.40,583.34 C548.85,582.53 550.37,581.80 551.92,581.22 C553.48,580.63 555.10,580.15 556.72,579.84 C558.35,579.53 560.04,579.37 561.70,579.36 C563.36,579.35 565.04,579.51 566.67,579.79 C568.31,580.08 569.93,580.54 571.50,581.08 C573.08,581.62 574.61,582.29 576.10,583.04 C577.59,583.78 579.03,584.64 580.43,585.54 C581.83,586.44 583.19,587.42 584.51,588.44 C585.83,589.46 587.10,590.54 588.34,591.65 C589.59,592.76 590.80,593.91 591.98,595.09 C593.16,596.27 594.30,597.48 595.42,598.72 C596.54,599.95 597.64,601.21 598.71,602.48 C599.79,603.76 600.84,605.06 601.87,606.36 C602.91,607.67 603.93,608.99 604.94,610.32 C605.95,611.64 606.94,612.98 607.93,614.33 C608.92,615.67 609.90,617.02 610.87,618.37 C611.85,619.73 612.81,621.09 613.78,622.45 C614.75,623.81 615.71,625.17 616.67,626.53 C617.63,627.89 618.60,629.26 619.56,630.62 C620.53,631.98 621.49,633.34 622.46,634.69 C623.44,636.05 624.41,637.40 625.40,638.75 C626.38,640.09 627.37,641.43 628.38,642.77 C629.38,644.10 630.39,645.42 631.41,646.74 C632.44,648.06 633.47,649.37 634.51,650.67 C635.56,651.97 636.61,653.26 637.68,654.55 C638.74,655.83 639.81,657.11 640.90,658.37 C641.99,659.64 643.09,660.89 644.20,662.14 C645.31,663.38 646.43,664.62 647.56,665.84 C648.70,667.06 649.84,668.27 651.00,669.47 C652.16,670.67 653.33,671.86 654.51,673.04 C655.70,674.21 656.90,675.37 658.11,676.52 C659.32,677.67 660.54,678.80 661.78,679.92 C663.02,681.04 664.27,682.14 665.54,683.22 C666.81,684.30 668.09,685.36 669.41,686.39 C670.72,687.42 672.05,688.43 673.41,689.40 C674.77,690.36 676.15,691.30 677.56,692.18 C678.98,693.06 680.42,693.90 681.90,694.67 C683.38,695.43 684.90,696.15 686.45,696.76 C687.99,697.37 689.58,697.91 691.20,698.32 C692.81,698.73 694.46,699.03 696.11,699.20 C697.77,699.37 699.45,699.39 701.11,699.32 C702.77,699.25 704.44,699.05 706.08,698.78 C707.73,698.52 709.36,698.15 710.98,697.75 C712.59,697.34 714.19,696.86 715.78,696.36 C717.37,695.86 718.95,695.31 720.52,694.75 C722.09,694.20 723.66,693.61 725.22,693.02 C726.78,692.43 728.33,691.82 729.88,691.21 C731.43,690.59 732.97,689.96 734.51,689.33 C736.06,688.69 737.60,688.05 739.13,687.40 C740.67,686.75 742.20,686.10 743.74,685.45 C745.27,684.79 746.81,684.14 748.34,683.49 C749.88,682.83 751.41,682.18 752.95,681.53 C754.49,680.89 756.03,680.24 757.57,679.61 C759.11,678.98 760.66,678.35 762.21,677.74 C763.76,677.12 765.31,676.52 766.87,675.93 C768.43,675.34 770.00,674.76 771.57,674.21 C773.14,673.65 774.72,673.12 776.31,672.60 C777.89,672.07 779.49,671.58 781.07,671.07 C782.66,670.55 784.25,670.05 785.83,669.51 C787.40,668.96 788.97,668.40 790.53,667.79 C792.08,667.18 793.61,666.53 795.14,665.85 C796.66,665.18 798.17,664.46 799.67,663.74 C801.18,663.02 802.67,662.27 804.16,661.52 C805.64,660.76 807.13,660.00 808.60,659.22 C810.07,658.43 811.54,657.64 812.99,656.81 C814.43,655.98 815.87,655.14 817.28,654.25 C818.69,653.36 820.09,652.44 821.45,651.48 C822.82,650.53 824.16,649.54 825.47,648.51 C826.78,647.48 828.07,646.40 829.32,645.30 C830.57,644.20 831.79,643.06 832.98,641.89 C834.17,640.73 835.33,639.53 836.47,638.32 C837.62,637.10 838.74,635.86 839.84,634.61 C840.94,633.36 842.02,632.09 843.09,630.81 C844.15,629.52 845.20,628.23 846.24,626.92 C847.28,625.62 848.30,624.30 849.32,622.98 C850.33,621.65 851.34,620.32 852.33,618.98 C853.33,617.64 854.31,616.30 855.29,614.95 C856.27,613.60 857.24,612.24 858.21,610.88 C859.17,609.52 860.13,608.16 861.09,606.79 C862.04,605.42 863.00,604.05 863.94,602.68 C864.89,601.31 865.84,599.94 866.78,598.56 C867.73,597.19 868.67,595.81 869.61,594.44 C870.56,593.06 871.50,591.68 872.44,590.31 C873.38,588.93 874.32,587.55 875.27,586.18 C876.21,584.81 877.16,583.43 878.11,582.06 C879.06,580.69 880.01,579.32 880.97,577.96 C881.93,576.59 882.89,575.23 883.85,573.87 C884.82,572.51 885.79,571.15 886.77,569.80 C887.75,568.46 888.74,567.11 889.74,565.77 C890.73,564.44 891.74,563.10 892.76,561.78 C893.77,560.46 894.80,559.15 895.84,557.84 C896.88,556.54 897.93,555.25 899.01,553.97 C900.08,552.69 901.16,551.42 902.27,550.18 C903.38,548.93 904.50,547.69 905.65,546.49 C906.80,545.28 907.97,544.09 909.18,542.94 C910.38,541.79 911.61,540.66 912.88,539.57 C914.15,538.49 915.45,537.44 916.79,536.46 C918.14,535.48 919.52,534.53 920.96,533.69 C922.39,532.85 923.87,532.05 925.41,531.41 C926.94,530.77 928.53,530.20 930.15,529.84 C931.76,529.47 933.45,529.22 935.10,529.19 C936.75,529.16 938.44,529.34 940.07,529.65 C941.70,529.97 943.31,530.47 944.86,531.07 C946.41,531.66 947.92,532.42 949.37,533.22 C950.83,534.03 952.23,534.94 953.60,535.90 C954.96,536.85 956.27,537.89 957.56,538.95 C958.84,540.01 960.08,541.13 961.30,542.28 C962.51,543.42 963.69,544.60 964.85,545.80 C966.01,547.00 967.14,548.23 968.25,549.47 C969.36,550.71 970.45,551.98 971.52,553.25 C972.60,554.53 973.65,555.82 974.70,557.12 C975.74,558.42 976.77,559.74 977.79,561.06 C978.81,562.38 979.81,563.71 980.81,565.04 C981.81,566.38 982.80,567.72 983.78,569.07 C984.76,570.42 985.74,571.77 986.71,573.13 C987.68,574.48 988.64,575.84 989.61,577.20 C990.57,578.57 991.53,579.93 992.49,581.30 C993.44,582.66 994.40,584.03 995.35,585.40 C996.31,586.76 997.26,588.13 998.22,589.50 C999.17,590.87 1000.13,592.23 1001.09,593.60 C1002.05,594.96 1003.01,596.32 1003.98,597.68 C1004.94,599.04 1005.91,600.40 1006.88,601.76 C1007.85,603.12 1008.82,604.47 1009.78,605.83 C1010.75,607.19 1011.72,608.55 1012.69,609.91 C1013.65,611.27 1014.62,612.63 1015.58,613.99 C1016.54,615.35 1017.50,616.72 1018.45,618.09 C1019.41,619.45 1020.36,620.83 1021.30,622.20 C1022.25,623.57 1023.19,624.95 1024.12,626.33 C1025.06,627.71 1025.99,629.10 1026.91,630.49 C1027.84,631.87 1028.76,633.26 1029.68,634.65 C1030.60,636.04 1031.52,637.44 1032.44,638.83 C1033.36,640.22 1034.27,641.62 1035.19,643.01 C1036.10,644.40 1037.02,645.80 1037.94,647.19 C1038.85,648.58 1039.77,649.98 1040.69,651.37 C1041.61,652.76 1042.53,654.15 1043.45,655.54 C1044.38,656.93 1045.31,658.31 1046.24,659.70 C1047.17,661.08 1048.10,662.46 1049.04,663.84 C1049.98,665.22 1050.93,666.59 1051.88,667.97 C1052.82,669.34 1053.78,670.71 1054.73,672.07 C1055.69,673.44 1056.65,674.80 1057.62,676.16 C1058.58,677.52 1059.55,678.88 1060.53,680.23 C1061.50,681.58 1062.48,682.93 1063.47,684.28 C1064.45,685.63 1065.44,686.97 1066.44,688.31 C1067.43,689.65 1068.43,690.98 1069.44,692.31 C1070.44,693.64 1071.45,694.97 1072.46,696.30 C1073.48,697.62 1074.50,698.94 1075.52,700.25 C1076.55,701.57 1077.58,702.88 1078.62,704.19 C1079.66,705.49 1080.70,706.80 1081.75,708.09 C1082.79,709.39 1083.85,710.68 1084.91,711.97 C1085.97,713.26 1087.03,714.54 1088.10,715.82 C1089.18,717.10 1090.25,718.37 1091.34,719.64 C1092.42,720.90 1093.51,722.17 1094.61,723.42 C1095.71,724.68 1096.81,725.93 1097.92,727.17 C1099.03,728.42 1100.15,729.66 1101.27,730.89 C1102.40,732.12 1103.53,733.35 1104.67,734.56 C1105.81,735.78 1106.95,737.00 1108.10,738.20 C1109.26,739.41 1110.42,740.61 1111.58,741.80 C1112.75,742.99 1113.93,744.17 1115.11,745.35 C1116.29,746.52 1117.48,747.69 1118.68,748.85 C1119.88,750.01 1121.09,751.16 1122.30,752.31 C1123.52,753.45 1124.74,754.58 1125.97,755.71 C1127.20,756.83 1128.44,757.95 1129.69,759.06 C1130.94,760.16 1132.19,761.26 1133.46,762.35 C1134.72,763.43 1136.00,764.51 1137.28,765.57 C1138.56,766.64 1139.85,767.70 1141.16,768.74 C1142.46,769.78 1143.77,770.81 1145.09,771.83 C1146.41,772.85 1147.73,773.86 1149.07,774.86 C1150.41,775.86 1151.76,776.84 1153.11,777.81 C1154.47,778.78 1155.84,779.74 1157.21,780.68 C1158.59,781.62 1159.97,782.55 1161.37,783.46 C1162.76,784.38 1164.17,785.28 1165.58,786.16 C1167.00,787.05 1168.42,787.92 1169.85,788.77 C1171.29,789.62 1172.73,790.46 1174.18,791.28 C1175.64,792.10 1177.10,792.90 1178.57,793.68 C1180.04,794.47 1181.52,795.23 1183.01,795.98 C1184.50,796.73 1186.01,797.46 1187.52,798.17 C1189.03,798.87 1190.54,799.57 1192.07,800.23 C1193.60,800.90 1195.14,801.55 1196.68,802.18 C1198.23,802.80 1199.78,803.41 1201.34,803.99 C1202.91,804.58 1204.48,805.14 1206.06,805.67 C1207.64,806.21 1209.22,806.73 1210.82,807.22 C1212.41,807.71 1214.01,808.17 1215.62,808.62 C1217.23,809.06 1218.84,809.48 1220.46,809.88 C1222.08,810.28 1223.71,810.66 1225.33,811.01 C1226.96,811.37 1228.60,811.70 1230.24,812.02 C1231.87,812.33 1233.52,812.62 1235.16,812.89 C1236.81,813.17 1238.46,813.42 1240.11,813.66 C1241.76,813.90 1243.41,814.12 1245.07,814.32 C1246.72,814.53 1248.38,814.72 1250.04,814.89 C1251.70,815.06 1253.36,815.22 1255.02,815.36 C1256.68,815.51 1258.34,815.64 1260.01,815.77 C1261.67,815.89 1263.33,815.99 1265.00,816.10 C1266.66,816.20 1268.33,816.29 1269.99,816.37 C1271.66,816.45 1273.33,816.52 1274.99,816.59 C1276.66,816.66 1278.33,816.72 1279.99,816.78 C1281.66,816.84 1283.33,816.89 1284.99,816.94 C1286.66,816.99 1288.33,817.03 1290.00,817.08 C1291.66,817.13 1293.33,817.17 1295.00,817.21 C1296.66,817.26 1298.33,817.30 1300.00,817.35 C1301.67,817.40 1304.17,817.48 1305.00,817.50 L1360.00,817.80 L1410.00,817.90 L1679.80,817.90 L1679.8,817.9 L173.5,817.9 Z"/>
<clipPath id="ct"><use href="#ft"/></clipPath>
<clipPath id="cm"><use href="#fm"/></clipPath>
<clipPath id="cb"><use href="#fb"/></clipPath>
</defs>
<rect x="0" y="0" width="1763" height="1004" fill="#fff"/>
<use href="#ft" fill="#cccccc"/>
<g clip-path="url(#ct)" stroke-width="1"><line x1="100" x2="1753" y1="101.5" y2="101.5" stroke="#d7d7d7"/><line x1="100" x2="1753" y1="201.5" y2="201.5" stroke="#cfcfcf"/><line x1="100" x2="1753" y1="302.5" y2="302.5" stroke="#d7d7d7"/><line x1="100" x2="1753" y1="503.5" y2="503.5" stroke="#d8d8d8"/><line x1="100" x2="1753" y1="704.5" y2="704.5" stroke="#d7d7d7"/></g>
<path d="M173.60,403.60 C174.44,403.60 176.94,403.60 178.61,403.60 C180.28,403.60 181.95,403.59 183.62,403.57 C185.29,403.55 186.97,403.53 188.64,403.50 C190.31,403.46 191.98,403.43 193.65,403.38 C195.32,403.33 196.99,403.28 198.66,403.22 C200.33,403.16 202.00,403.09 203.66,403.02 C205.33,402.95 207.00,402.87 208.67,402.78 C210.34,402.69 212.01,402.60 213.68,402.50 C215.34,402.40 217.01,402.29 218.68,402.18 C220.34,402.07 222.01,401.95 223.68,401.82 C225.34,401.70 227.01,401.57 228.67,401.43 C230.34,401.29 232.00,401.14 233.67,400.99 C235.33,400.84 236.99,400.68 238.66,400.52 C240.32,400.36 241.98,400.19 243.64,400.01 C245.30,399.83 246.96,399.65 248.62,399.46 C250.28,399.27 251.94,399.08 253.60,398.88 C255.26,398.68 256.92,398.47 258.58,398.26 C260.23,398.05 261.89,397.83 263.55,397.61 C265.20,397.39 266.86,397.16 268.51,396.92 C270.17,396.69 271.82,396.45 273.47,396.20 C275.12,395.95 276.78,395.70 278.43,395.45 C280.08,395.19 281.73,394.93 283.38,394.66 C285.03,394.39 286.67,394.12 288.32,393.84 C289.97,393.56 291.61,393.27 293.26,392.98 C294.91,392.69 296.55,392.40 298.19,392.10 C299.84,391.80 301.48,391.49 303.12,391.18 C304.76,390.87 306.40,390.56 308.04,390.24 C309.68,389.92 311.32,389.59 312.96,389.26 C314.60,388.93 316.23,388.60 317.87,388.26 C319.51,387.92 321.14,387.57 322.77,387.22 C324.41,386.88 326.04,386.52 327.67,386.16 C329.30,385.80 330.94,385.44 332.56,385.07 C334.19,384.70 335.82,384.32 337.45,383.93 C339.07,383.54 340.69,383.14 342.31,382.71 C343.92,382.28 345.53,381.84 347.14,381.37 C348.74,380.89 350.34,380.40 351.92,379.87 C353.51,379.35 355.08,378.80 356.65,378.21 C358.21,377.62 359.76,377.00 361.30,376.34 C362.83,375.69 364.36,374.99 365.86,374.26 C367.36,373.54 368.85,372.77 370.31,371.97 C371.78,371.17 373.22,370.32 374.65,369.45 C376.07,368.57 377.47,367.66 378.85,366.72 C380.22,365.77 381.58,364.79 382.90,363.77 C384.23,362.76 385.54,361.72 386.82,360.64 C388.10,359.57 389.35,358.46 390.58,357.33 C391.81,356.20 393.01,355.04 394.20,353.86 C395.38,352.68 396.53,351.47 397.67,350.25 C398.80,349.02 399.91,347.77 401.00,346.50 C402.09,345.24 403.15,343.95 404.20,342.64 C405.24,341.34 406.27,340.02 407.27,338.68 C408.27,337.35 409.25,336.00 410.22,334.63 C411.19,333.27 412.13,331.89 413.06,330.50 C413.99,329.12 414.90,327.71 415.79,326.30 C416.69,324.89 417.57,323.47 418.43,322.04 C419.29,320.61 420.14,319.17 420.97,317.72 C421.80,316.27 422.62,314.82 423.43,313.35 C424.23,311.89 425.02,310.41 425.80,308.94 C426.58,307.46 427.35,305.97 428.10,304.48 C428.86,302.99 429.60,301.49 430.33,299.99 C431.06,298.49 431.78,296.98 432.49,295.47 C433.20,293.96 433.90,292.44 434.59,290.92 C435.28,289.40 435.96,287.87 436.63,286.34 C437.30,284.81 437.96,283.27 438.61,281.74 C439.26,280.20 439.91,278.66 440.55,277.11 C441.18,275.57 441.81,274.02 442.44,272.47 C443.06,270.92 443.68,269.37 444.29,267.82 C444.90,266.26 445.51,264.70 446.11,263.14 C446.71,261.59 447.31,260.02 447.90,258.46 C448.49,256.90 449.08,255.33 449.66,253.77 C450.24,252.20 450.82,250.64 451.39,249.07 C451.97,247.50 452.54,245.93 453.11,244.36 C453.67,242.78 454.24,241.21 454.80,239.64 C455.36,238.06 455.92,236.49 456.47,234.91 C457.03,233.34 457.58,231.76 458.13,230.18 C458.68,228.61 459.23,227.03 459.77,225.45 C460.32,223.87 460.86,222.29 461.40,220.71 C461.95,219.13 462.49,217.55 463.02,215.97 C463.56,214.38 464.10,212.80 464.63,211.22 C465.17,209.64 465.70,208.05 466.23,206.47 C466.77,204.89 467.30,203.30 467.83,201.72 C468.36,200.13 468.89,198.55 469.41,196.96 C469.94,195.38 470.47,193.79 471.00,192.21 C471.52,190.62 472.05,189.04 472.57,187.45 C473.10,185.86 473.62,184.28 474.15,182.69 C474.67,181.11 475.20,179.52 475.72,177.93 C476.25,176.35 476.77,174.76 477.30,173.17 C477.82,171.59 478.35,170.00 478.87,168.42 C479.40,166.83 479.92,165.24 480.45,163.66 C480.97,162.07 481.50,160.49 482.02,158.90 C482.55,157.31 483.08,155.73 483.61,154.14 C484.14,152.56 484.67,150.97 485.20,149.39 C485.73,147.81 486.26,146.22 486.79,144.64 C487.33,143.06 487.86,141.47 488.40,139.89 C488.93,138.31 489.47,136.73 490.01,135.15 C490.55,133.57 491.10,131.99 491.64,130.41 C492.19,128.83 492.73,127.25 493.29,125.67 C493.84,124.09 494.39,122.52 494.95,120.94 C495.50,119.37 496.06,117.79 496.62,116.22 C497.19,114.65 497.75,113.07 498.33,111.50 C498.90,109.93 499.47,108.37 500.05,106.80 C500.63,105.23 501.21,103.67 501.80,102.10 C502.39,100.54 502.99,98.98 503.59,97.42 C504.19,95.86 504.79,94.30 505.41,92.75 C506.02,91.19 506.64,89.64 507.27,88.09 C507.89,86.55 508.53,85.00 509.17,83.46 C509.82,81.92 510.47,80.38 511.13,78.84 C511.79,77.31 512.46,75.78 513.15,74.26 C513.83,72.73 514.52,71.21 515.23,69.70 C515.94,68.19 516.66,66.68 517.40,65.18 C518.14,63.68 518.89,62.19 519.67,60.71 C520.44,59.23 521.23,57.76 522.05,56.30 C522.87,54.84 523.70,53.39 524.57,51.97 C525.44,50.54 526.33,49.13 527.27,47.75 C528.21,46.36 529.17,45.00 530.19,43.67 C531.21,42.35 532.25,41.04 533.36,39.80 C534.48,38.55 535.64,37.34 536.87,36.22 C538.11,35.10 539.39,34.00 540.76,33.06 C542.13,32.12 543.58,31.24 545.10,30.56 C546.61,29.89 548.23,29.32 549.85,29.01 C551.47,28.71 553.19,28.60 554.83,28.71 C556.48,28.83 558.16,29.19 559.73,29.70 C561.31,30.21 562.84,30.95 564.29,31.75 C565.75,32.56 567.13,33.53 568.45,34.54 C569.78,35.55 571.02,36.68 572.23,37.83 C573.43,38.99 574.58,40.21 575.69,41.46 C576.80,42.71 577.85,44.01 578.87,45.33 C579.90,46.64 580.89,47.99 581.85,49.36 C582.81,50.73 583.73,52.12 584.64,53.52 C585.55,54.92 586.43,56.34 587.29,57.77 C588.16,59.20 589.00,60.65 589.83,62.10 C590.66,63.55 591.47,65.01 592.28,66.47 C593.08,67.94 593.86,69.41 594.64,70.89 C595.42,72.37 596.18,73.85 596.94,75.34 C597.70,76.83 598.45,78.33 599.19,79.83 C599.93,81.32 600.66,82.82 601.39,84.33 C602.11,85.83 602.83,87.34 603.55,88.85 C604.26,90.36 604.97,91.87 605.68,93.39 C606.38,94.90 607.08,96.42 607.78,97.94 C608.48,99.46 609.17,100.98 609.86,102.50 C610.55,104.02 611.24,105.54 611.93,107.07 C612.61,108.59 613.30,110.11 613.98,111.64 C614.66,113.16 615.34,114.69 616.03,116.21 C616.71,117.74 617.39,119.26 618.07,120.79 C618.75,122.31 619.43,123.84 620.11,125.37 C620.80,126.89 621.48,128.42 622.16,129.94 C622.85,131.46 623.53,132.99 624.22,134.51 C624.91,136.03 625.60,137.55 626.29,139.08 C626.98,140.60 627.68,142.11 628.38,143.63 C629.08,145.15 629.78,146.66 630.49,148.18 C631.20,149.69 631.91,151.20 632.62,152.71 C633.34,154.22 634.06,155.73 634.79,157.23 C635.51,158.74 636.24,160.24 636.98,161.74 C637.72,163.24 638.46,164.74 639.21,166.23 C639.95,167.73 640.71,169.22 641.47,170.70 C642.23,172.19 642.99,173.68 643.77,175.16 C644.54,176.64 645.32,178.11 646.11,179.59 C646.90,181.06 647.70,182.53 648.51,183.99 C649.31,185.45 650.13,186.91 650.95,188.37 C651.78,189.82 652.61,191.27 653.46,192.71 C654.30,194.15 655.16,195.58 656.03,197.01 C656.89,198.44 657.77,199.86 658.67,201.27 C659.56,202.68 660.47,204.08 661.39,205.48 C662.32,206.87 663.26,208.25 664.21,209.62 C665.17,210.99 666.14,212.35 667.14,213.69 C668.13,215.03 669.15,216.36 670.18,217.67 C671.22,218.98 672.28,220.27 673.37,221.54 C674.46,222.80 675.57,224.05 676.72,225.27 C677.87,226.48 679.04,227.67 680.26,228.82 C681.47,229.97 682.71,231.08 684.00,232.15 C685.28,233.22 686.59,234.26 687.95,235.23 C689.30,236.21 690.70,237.13 692.13,238.00 C693.56,238.86 695.03,239.67 696.53,240.40 C698.03,241.12 699.58,241.77 701.14,242.35 C702.71,242.92 704.31,243.42 705.93,243.82 C707.55,244.22 709.20,244.52 710.85,244.75 C712.50,244.98 714.18,245.12 715.84,245.18 C717.51,245.25 719.19,245.22 720.85,245.15 C722.52,245.07 724.19,244.93 725.85,244.75 C727.51,244.57 729.16,244.32 730.81,244.06 C732.46,243.80 734.11,243.49 735.75,243.18 C737.39,242.86 739.02,242.52 740.66,242.17 C742.29,241.83 743.92,241.47 745.56,241.12 C747.19,240.77 748.82,240.42 750.46,240.08 C752.10,239.74 753.73,239.40 755.37,239.08 C757.01,238.76 758.65,238.44 760.30,238.15 C761.94,237.86 763.59,237.57 765.24,237.32 C766.89,237.07 768.55,236.83 770.20,236.63 C771.86,236.43 773.52,236.25 775.19,236.11 C776.85,235.97 778.52,235.86 780.19,235.80 C781.86,235.74 783.53,235.71 785.20,235.73 C786.87,235.75 788.54,235.82 790.21,235.94 C791.87,236.06 793.54,236.23 795.19,236.45 C796.85,236.67 798.50,236.94 800.14,237.24 C801.78,237.55 803.42,237.90 805.05,238.27 C806.68,238.64 808.30,239.05 809.92,239.46 C811.53,239.88 813.14,240.33 814.75,240.78 C816.36,241.23 817.96,241.71 819.57,242.18 C821.17,242.64 822.77,243.13 824.37,243.60 C825.97,244.07 827.58,244.54 829.18,245.01 C830.79,245.48 832.39,245.94 834.00,246.40 C835.60,246.85 837.21,247.31 838.82,247.76 C840.43,248.21 842.04,248.66 843.65,249.10 C845.26,249.54 846.87,249.98 848.49,250.42 C850.10,250.86 851.71,251.29 853.33,251.72 C854.94,252.16 856.55,252.59 858.17,253.01 C859.78,253.44 861.40,253.86 863.02,254.29 C864.63,254.71 866.25,255.13 867.87,255.55 C869.49,255.96 871.10,256.38 872.72,256.80 C874.34,257.21 875.96,257.63 877.58,258.04 C879.20,258.45 880.82,258.86 882.44,259.27 C884.05,259.69 885.67,260.10 887.29,260.50 C888.91,260.91 890.53,261.32 892.15,261.73 C893.77,262.14 895.39,262.55 897.01,262.96 C898.63,263.37 900.25,263.78 901.87,264.19 C903.49,264.61 905.11,265.02 906.72,265.45 C908.34,265.88 909.95,266.31 911.56,266.76 C913.17,267.20 914.78,267.66 916.38,268.13 C917.98,268.61 919.58,269.10 921.17,269.61 C922.76,270.11 924.35,270.64 925.93,271.19 C927.51,271.74 929.08,272.31 930.64,272.90 C932.20,273.50 933.75,274.12 935.29,274.76 C936.83,275.41 938.36,276.08 939.88,276.78 C941.40,277.48 942.90,278.21 944.39,278.96 C945.88,279.72 947.36,280.50 948.82,281.31 C950.28,282.12 951.72,282.96 953.16,283.82 C954.59,284.68 956.01,285.56 957.42,286.45 C958.84,287.34 960.24,288.26 961.63,289.18 C963.02,290.10 964.41,291.04 965.79,291.98 C967.16,292.92 968.54,293.88 969.90,294.83 C971.27,295.79 972.64,296.76 974.00,297.73 C975.36,298.69 976.72,299.67 978.08,300.64 C979.44,301.61 980.80,302.58 982.16,303.55 C983.52,304.52 984.88,305.49 986.24,306.45 C987.61,307.42 988.97,308.38 990.34,309.34 C991.71,310.30 993.08,311.26 994.45,312.21 C995.82,313.16 997.19,314.12 998.57,315.06 C999.95,316.01 1001.32,316.96 1002.70,317.90 C1004.08,318.84 1005.46,319.78 1006.85,320.72 C1008.23,321.66 1009.62,322.59 1011.00,323.52 C1012.39,324.45 1013.78,325.38 1015.17,326.30 C1016.56,327.23 1017.96,328.15 1019.36,329.06 C1020.75,329.98 1022.15,330.89 1023.55,331.80 C1024.95,332.71 1026.36,333.62 1027.76,334.52 C1029.17,335.43 1030.58,336.33 1031.99,337.22 C1033.40,338.12 1034.81,339.01 1036.23,339.90 C1037.64,340.78 1039.06,341.67 1040.48,342.55 C1041.90,343.42 1043.32,344.30 1044.75,345.17 C1046.18,346.04 1047.60,346.91 1049.04,347.77 C1050.47,348.63 1051.90,349.49 1053.34,350.34 C1054.77,351.20 1056.21,352.05 1057.65,352.89 C1059.10,353.73 1060.54,354.57 1061.99,355.41 C1063.43,356.24 1064.89,357.07 1066.34,357.90 C1067.79,358.72 1069.25,359.54 1070.71,360.35 C1072.17,361.16 1073.63,361.97 1075.10,362.77 C1076.57,363.57 1078.04,364.36 1079.51,365.15 C1080.98,365.93 1082.46,366.71 1083.94,367.49 C1085.43,368.26 1086.91,369.02 1088.40,369.78 C1089.89,370.54 1091.38,371.29 1092.88,372.03 C1094.38,372.77 1095.88,373.50 1097.39,374.22 C1098.89,374.95 1100.40,375.66 1101.92,376.37 C1103.43,377.07 1104.95,377.77 1106.48,378.45 C1108.00,379.13 1109.53,379.81 1111.06,380.47 C1112.60,381.13 1114.13,381.79 1115.68,382.43 C1117.22,383.07 1118.77,383.70 1120.32,384.31 C1121.87,384.93 1123.43,385.54 1124.99,386.13 C1126.56,386.72 1128.12,387.29 1129.70,387.86 C1131.27,388.42 1132.85,388.97 1134.43,389.50 C1136.01,390.04 1137.60,390.56 1139.19,391.06 C1140.79,391.56 1142.39,392.05 1143.99,392.53 C1145.59,393.00 1147.20,393.45 1148.81,393.89 C1150.42,394.32 1152.04,394.74 1153.66,395.14 C1155.29,395.54 1156.91,395.92 1158.54,396.29 C1160.17,396.65 1161.81,396.99 1163.45,397.32 C1165.09,397.64 1166.73,397.95 1168.38,398.24 C1170.02,398.53 1171.67,398.80 1173.32,399.06 C1174.97,399.32 1176.62,399.56 1178.28,399.78 C1179.94,400.01 1181.59,400.22 1183.25,400.41 C1184.91,400.61 1186.57,400.79 1188.23,400.96 C1189.90,401.13 1191.56,401.28 1193.22,401.42 C1194.89,401.57 1196.56,401.70 1198.22,401.82 C1199.89,401.94 1201.56,402.05 1203.22,402.15 C1204.89,402.25 1206.56,402.34 1208.23,402.42 C1209.90,402.50 1211.57,402.57 1213.23,402.64 C1214.90,402.70 1216.57,402.76 1218.24,402.81 C1219.91,402.87 1221.58,402.91 1223.25,402.95 C1224.92,403.00 1226.59,403.03 1228.27,403.07 C1229.94,403.10 1231.61,403.13 1233.28,403.16 C1234.95,403.18 1236.62,403.21 1238.29,403.23 C1239.96,403.26 1242.46,403.29 1243.30,403.30 L1300.00,403.60 L1679.70,403.70" fill="none" stroke="#000" stroke-width="2.1" stroke-linejoin="round" stroke-linecap="round"/>
<use href="#fm" fill="#cccccc"/>
<g clip-path="url(#cm)" stroke-width="1"><line x1="100" x2="1753" y1="101.5" y2="101.5" stroke="#d7d7d7"/><line x1="100" x2="1753" y1="201.5" y2="201.5" stroke="#cfcfcf"/><line x1="100" x2="1753" y1="302.5" y2="302.5" stroke="#d7d7d7"/><line x1="100" x2="1753" y1="503.5" y2="503.5" stroke="#d8d8d8"/><line x1="100" x2="1753" y1="704.5" y2="704.5" stroke="#d7d7d7"/></g>
<path d="M173.50,603.50 C174.34,603.50 176.84,603.50 178.51,603.50 C180.18,603.50 181.86,603.50 183.53,603.50 C185.20,603.50 186.87,603.50 188.54,603.50 C190.21,603.50 191.88,603.50 193.55,603.50 C195.23,603.50 196.90,603.50 198.57,603.50 C200.24,603.50 201.91,603.50 203.58,603.50 C205.25,603.50 206.92,603.50 208.59,603.50 C210.27,603.50 211.94,603.50 213.61,603.50 C215.28,603.50 216.95,603.50 218.62,603.50 C220.29,603.50 221.96,603.50 223.64,603.50 C225.31,603.50 226.98,603.50 228.65,603.50 C230.32,603.50 231.99,603.50 233.66,603.50 C235.33,603.50 237.00,603.50 238.68,603.50 C240.35,603.50 242.02,603.50 243.69,603.50 C245.36,603.50 247.03,603.50 248.70,603.50 C250.37,603.50 252.05,603.49 253.72,603.48 C255.39,603.47 257.06,603.46 258.73,603.45 C260.40,603.44 262.07,603.43 263.74,603.42 C265.41,603.40 267.09,603.39 268.76,603.38 C270.43,603.37 272.10,603.35 273.77,603.34 C275.44,603.33 277.11,603.31 278.78,603.30 C280.45,603.28 282.13,603.26 283.80,603.25 C285.47,603.23 287.14,603.21 288.81,603.20 C290.48,603.18 292.15,603.16 293.82,603.14 C295.49,603.12 297.17,603.10 298.84,603.08 C300.51,603.06 302.18,603.05 303.85,603.02 C305.52,603.00 307.19,602.98 308.86,602.95 C310.53,602.92 312.20,602.89 313.88,602.85 C315.55,602.81 317.22,602.76 318.89,602.71 C320.56,602.65 322.23,602.59 323.90,602.52 C325.57,602.45 327.24,602.37 328.90,602.28 C330.57,602.18 332.24,602.08 333.91,601.96 C335.57,601.84 337.24,601.70 338.90,601.55 C340.57,601.40 342.23,601.24 343.89,601.06 C345.55,600.87 347.21,600.67 348.87,600.45 C350.53,600.23 352.18,599.99 353.83,599.73 C355.48,599.47 357.13,599.19 358.77,598.89 C360.42,598.58 362.06,598.25 363.69,597.90 C365.32,597.55 366.95,597.18 368.58,596.78 C370.20,596.38 371.82,595.96 373.42,595.51 C375.03,595.06 376.64,594.58 378.23,594.08 C379.82,593.58 381.41,593.05 382.99,592.50 C384.56,591.94 386.13,591.36 387.69,590.75 C389.24,590.14 390.79,589.51 392.32,588.85 C393.86,588.19 395.38,587.50 396.89,586.78 C398.40,586.07 399.90,585.33 401.39,584.56 C402.87,583.80 404.34,583.00 405.80,582.19 C407.26,581.37 408.71,580.53 410.14,579.67 C411.57,578.81 412.99,577.93 414.40,577.03 C415.81,576.13 417.20,575.21 418.58,574.27 C419.96,573.33 421.33,572.37 422.69,571.39 C424.05,570.42 425.39,569.43 426.73,568.42 C428.06,567.42 429.39,566.39 430.70,565.36 C432.01,564.32 433.31,563.27 434.60,562.21 C435.89,561.15 437.17,560.07 438.44,558.98 C439.70,557.90 440.96,556.79 442.21,555.68 C443.46,554.57 444.70,553.45 445.93,552.32 C447.16,551.19 448.37,550.04 449.59,548.89 C450.80,547.74 452.00,546.58 453.19,545.41 C454.38,544.24 455.57,543.06 456.75,541.87 C457.92,540.69 459.09,539.49 460.26,538.29 C461.42,537.09 462.57,535.88 463.72,534.67 C464.87,533.46 466.02,532.24 467.16,531.02 C468.29,529.79 469.43,528.57 470.56,527.33 C471.68,526.10 472.81,524.86 473.92,523.62 C475.04,522.38 476.16,521.13 477.27,519.88 C478.38,518.64 479.48,517.38 480.59,516.13 C481.69,514.87 482.79,513.61 483.89,512.35 C484.99,511.09 486.08,509.83 487.17,508.56 C488.26,507.30 489.35,506.03 490.44,504.76 C491.53,503.49 492.61,502.22 493.70,500.95 C494.78,499.68 495.87,498.41 496.95,497.14 C498.03,495.86 499.12,494.59 500.20,493.32 C501.29,492.05 502.37,490.78 503.46,489.51 C504.55,488.25 505.64,486.98 506.74,485.72 C507.83,484.45 508.93,483.19 510.03,481.94 C511.14,480.68 512.24,479.43 513.36,478.18 C514.47,476.94 515.59,475.70 516.72,474.46 C517.84,473.23 518.98,472.00 520.12,470.78 C521.26,469.56 522.41,468.35 523.58,467.15 C524.74,465.95 525.91,464.76 527.10,463.58 C528.28,462.40 529.48,461.24 530.69,460.09 C531.91,458.94 533.13,457.80 534.37,456.68 C535.62,455.57 536.88,454.47 538.16,453.40 C539.44,452.32 540.74,451.27 542.06,450.25 C543.38,449.23 544.73,448.23 546.10,447.27 C547.47,446.32 548.86,445.39 550.28,444.51 C551.70,443.64 553.16,442.80 554.64,442.04 C556.12,441.27 557.63,440.54 559.17,439.90 C560.71,439.26 562.29,438.69 563.88,438.19 C565.48,437.70 567.10,437.27 568.73,436.94 C570.37,436.60 572.03,436.35 573.69,436.17 C575.34,435.99 577.02,435.88 578.69,435.86 C580.36,435.83 582.03,435.89 583.70,436.00 C585.36,436.12 587.03,436.31 588.68,436.55 C590.33,436.80 591.97,437.11 593.61,437.47 C595.24,437.83 596.86,438.24 598.47,438.69 C600.07,439.15 601.67,439.66 603.25,440.19 C604.83,440.73 606.40,441.30 607.96,441.90 C609.52,442.51 611.07,443.15 612.60,443.81 C614.14,444.46 615.66,445.15 617.18,445.86 C618.69,446.56 620.20,447.29 621.69,448.03 C623.19,448.77 624.68,449.53 626.17,450.29 C627.65,451.06 629.13,451.84 630.60,452.63 C632.08,453.42 633.54,454.22 635.02,455.01 C636.49,455.80 637.96,456.59 639.44,457.37 C640.92,458.15 642.40,458.93 643.89,459.68 C645.38,460.43 646.88,461.16 648.40,461.86 C649.92,462.56 651.45,463.24 653.00,463.86 C654.55,464.48 656.11,465.08 657.70,465.59 C659.29,466.11 660.90,466.58 662.53,466.95 C664.15,467.33 665.80,467.64 667.45,467.87 C669.11,468.09 670.78,468.24 672.45,468.31 C674.11,468.38 675.79,468.37 677.46,468.29 C679.12,468.21 680.79,468.06 682.45,467.84 C684.10,467.62 685.75,467.34 687.39,466.99 C689.02,466.65 690.65,466.24 692.25,465.79 C693.86,465.33 695.45,464.82 697.03,464.27 C698.61,463.72 700.17,463.12 701.71,462.49 C703.26,461.85 704.79,461.17 706.31,460.48 C707.83,459.78 709.33,459.04 710.82,458.30 C712.32,457.55 713.80,456.78 715.28,456.00 C716.76,455.22 718.22,454.42 719.69,453.62 C721.16,452.82 722.62,452.01 724.08,451.20 C725.55,450.40 727.01,449.58 728.47,448.78 C729.94,447.98 731.41,447.18 732.88,446.39 C734.35,445.60 735.83,444.82 737.32,444.07 C738.81,443.31 740.31,442.56 741.82,441.85 C743.33,441.14 744.85,440.44 746.39,439.79 C747.93,439.14 749.48,438.51 751.05,437.94 C752.62,437.37 754.21,436.84 755.81,436.38 C757.42,435.91 759.04,435.49 760.67,435.16 C762.31,434.83 763.97,434.58 765.63,434.41 C767.29,434.24 768.96,434.15 770.63,434.14 C772.30,434.13 773.98,434.21 775.64,434.34 C777.30,434.47 778.97,434.67 780.62,434.92 C782.27,435.17 783.91,435.49 785.55,435.83 C787.18,436.17 788.81,436.57 790.43,436.99 C792.04,437.40 793.65,437.86 795.25,438.33 C796.86,438.80 798.45,439.30 800.05,439.81 C801.64,440.31 803.22,440.84 804.81,441.36 C806.40,441.89 807.98,442.42 809.57,442.95 C811.16,443.47 812.74,444.00 814.33,444.51 C815.92,445.02 817.52,445.53 819.12,446.01 C820.72,446.48 822.33,446.95 823.94,447.38 C825.55,447.81 827.18,448.22 828.81,448.58 C830.44,448.94 832.08,449.26 833.73,449.53 C835.38,449.80 837.04,450.03 838.70,450.18 C840.36,450.34 842.03,450.43 843.70,450.45 C845.37,450.46 847.05,450.41 848.71,450.28 C850.38,450.14 852.04,449.91 853.68,449.62 C855.33,449.33 856.96,448.98 858.58,448.56 C860.19,448.14 861.79,447.64 863.38,447.11 C864.96,446.57 866.53,445.98 868.07,445.35 C869.62,444.72 871.14,444.03 872.65,443.32 C874.16,442.61 875.66,441.85 877.13,441.07 C878.61,440.29 880.07,439.46 881.51,438.62 C882.95,437.78 884.38,436.91 885.80,436.02 C887.21,435.13 888.61,434.22 890.00,433.29 C891.38,432.35 892.76,431.41 894.12,430.44 C895.49,429.48 896.84,428.49 898.19,427.50 C899.53,426.51 900.87,425.50 902.19,424.49 C903.52,423.47 904.84,422.44 906.15,421.41 C907.46,420.38 908.77,419.33 910.07,418.29 C911.37,417.24 912.67,416.18 913.96,415.13 C915.26,414.07 916.55,413.01 917.84,411.94 C919.13,410.88 920.41,409.81 921.70,408.75 C922.99,407.68 924.27,406.61 925.56,405.54 C926.84,404.48 928.13,403.41 929.42,402.35 C930.71,401.28 932.00,400.22 933.29,399.16 C934.59,398.11 935.88,397.05 937.19,396.01 C938.49,394.96 939.80,393.92 941.11,392.88 C942.42,391.85 943.74,390.82 945.06,389.80 C946.39,388.78 947.72,387.77 949.05,386.77 C950.39,385.77 951.74,384.78 953.10,383.80 C954.45,382.82 955.81,381.85 957.19,380.90 C958.56,379.95 959.95,379.02 961.34,378.10 C962.74,377.18 964.14,376.27 965.56,375.39 C966.98,374.51 968.41,373.65 969.86,372.81 C971.31,371.97 972.76,371.15 974.24,370.37 C975.71,369.58 977.20,368.82 978.71,368.10 C980.21,367.37 981.73,366.68 983.27,366.02 C984.81,365.37 986.36,364.75 987.93,364.18 C989.50,363.61 991.09,363.08 992.69,362.61 C994.29,362.14 995.91,361.71 997.54,361.35 C999.17,360.99 1000.82,360.68 1002.47,360.44 C1004.13,360.21 1005.79,360.04 1007.46,359.94 C1009.13,359.85 1010.80,359.82 1012.47,359.88 C1014.14,359.94 1015.81,360.07 1017.47,360.28 C1019.12,360.48 1020.78,360.77 1022.41,361.13 C1024.04,361.48 1025.66,361.91 1027.25,362.40 C1028.85,362.89 1030.43,363.45 1031.98,364.06 C1033.53,364.68 1035.07,365.36 1036.57,366.08 C1038.07,366.80 1039.55,367.59 1041.01,368.41 C1042.46,369.23 1043.89,370.10 1045.29,371.01 C1046.70,371.92 1048.07,372.87 1049.43,373.85 C1050.78,374.83 1052.10,375.85 1053.41,376.89 C1054.71,377.94 1055.99,379.01 1057.25,380.11 C1058.51,381.21 1059.74,382.34 1060.96,383.49 C1062.17,384.64 1063.36,385.81 1064.54,387.00 C1065.71,388.18 1066.87,389.39 1068.01,390.61 C1069.16,391.83 1070.28,393.06 1071.40,394.31 C1072.51,395.55 1073.61,396.81 1074.70,398.08 C1075.79,399.35 1076.87,400.62 1077.94,401.91 C1079.01,403.19 1080.07,404.49 1081.12,405.78 C1082.17,407.08 1083.21,408.39 1084.25,409.70 C1085.29,411.01 1086.32,412.33 1087.34,413.65 C1088.37,414.97 1089.38,416.29 1090.40,417.62 C1091.41,418.95 1092.42,420.28 1093.43,421.61 C1094.44,422.95 1095.44,424.28 1096.44,425.62 C1097.44,426.96 1098.44,428.30 1099.44,429.64 C1100.44,430.98 1101.43,432.32 1102.42,433.67 C1103.42,435.01 1104.41,436.36 1105.40,437.70 C1106.39,439.05 1107.38,440.40 1108.37,441.74 C1109.36,443.09 1110.34,444.44 1111.33,445.79 C1112.32,447.14 1113.30,448.49 1114.29,449.84 C1115.28,451.18 1116.26,452.53 1117.25,453.88 C1118.24,455.23 1119.22,456.58 1120.21,457.93 C1121.20,459.27 1122.19,460.62 1123.18,461.97 C1124.17,463.32 1125.16,464.66 1126.15,466.01 C1127.14,467.35 1128.14,468.69 1129.13,470.04 C1130.13,471.38 1131.13,472.72 1132.13,474.06 C1133.13,475.40 1134.13,476.73 1135.13,478.07 C1136.14,479.40 1137.15,480.74 1138.16,482.07 C1139.17,483.40 1140.18,484.73 1141.20,486.05 C1142.22,487.38 1143.24,488.70 1144.27,490.02 C1145.29,491.34 1146.32,492.65 1147.36,493.97 C1148.39,495.28 1149.43,496.59 1150.48,497.89 C1151.52,499.19 1152.57,500.49 1153.63,501.79 C1154.69,503.09 1155.75,504.38 1156.81,505.66 C1157.88,506.95 1158.95,508.23 1160.03,509.51 C1161.11,510.78 1162.20,512.05 1163.29,513.32 C1164.38,514.58 1165.48,515.84 1166.59,517.09 C1167.70,518.34 1168.81,519.59 1169.93,520.83 C1171.06,522.07 1172.18,523.30 1173.32,524.52 C1174.46,525.74 1175.61,526.96 1176.77,528.16 C1177.92,529.37 1179.09,530.57 1180.26,531.76 C1181.44,532.95 1182.63,534.12 1183.82,535.29 C1185.02,536.46 1186.22,537.62 1187.44,538.76 C1188.66,539.90 1189.89,541.04 1191.13,542.16 C1192.37,543.28 1193.61,544.39 1194.88,545.48 C1196.14,546.58 1197.41,547.66 1198.70,548.73 C1199.99,549.79 1201.28,550.85 1202.59,551.89 C1203.90,552.92 1205.23,553.95 1206.56,554.95 C1207.90,555.96 1209.24,556.95 1210.60,557.92 C1211.96,558.89 1213.34,559.84 1214.72,560.77 C1216.11,561.70 1217.51,562.62 1218.92,563.51 C1220.33,564.40 1221.76,565.28 1223.20,566.12 C1224.64,566.97 1226.09,567.80 1227.56,568.60 C1229.02,569.40 1230.51,570.18 1232.00,570.93 C1233.49,571.68 1235.00,572.41 1236.51,573.11 C1238.03,573.81 1239.57,574.47 1241.11,575.11 C1242.65,575.75 1244.21,576.36 1245.78,576.94 C1247.35,577.52 1248.93,578.06 1250.52,578.57 C1252.11,579.09 1253.71,579.56 1255.32,580.01 C1256.93,580.45 1258.55,580.86 1260.18,581.24 C1261.81,581.62 1263.44,581.97 1265.08,582.29 C1266.72,582.61 1268.37,582.91 1270.02,583.18 C1271.66,583.45 1273.32,583.70 1274.97,583.93 C1276.63,584.16 1278.29,584.36 1279.95,584.56 C1281.61,584.75 1283.27,584.93 1284.93,585.10 C1286.59,585.27 1288.26,585.42 1289.92,585.57 C1291.59,585.73 1293.25,585.87 1294.92,586.02 C1296.58,586.16 1298.25,586.30 1299.91,586.45 C1301.58,586.60 1303.24,586.75 1304.90,586.90 C1306.57,587.05 1308.23,587.21 1309.90,587.37 C1311.56,587.52 1313.22,587.69 1314.89,587.85 C1316.55,588.01 1318.21,588.18 1319.87,588.35 C1321.54,588.52 1323.20,588.69 1324.86,588.87 C1326.52,589.04 1328.19,589.22 1329.85,589.39 C1331.51,589.57 1333.17,589.75 1334.83,589.93 C1336.49,590.11 1338.15,590.30 1339.81,590.48 C1341.48,590.66 1343.14,590.85 1344.80,591.04 C1346.46,591.22 1348.12,591.41 1349.78,591.60 C1351.44,591.79 1353.10,591.98 1354.76,592.17 C1356.42,592.36 1358.08,592.55 1359.74,592.74 C1361.40,592.93 1363.06,593.13 1364.72,593.32 C1366.38,593.51 1368.04,593.70 1369.70,593.89 C1371.36,594.08 1373.02,594.27 1374.68,594.46 C1376.34,594.65 1378.00,594.84 1379.66,595.03 C1381.33,595.21 1382.99,595.40 1384.65,595.58 C1386.31,595.76 1387.97,595.94 1389.63,596.11 C1391.30,596.29 1392.96,596.46 1394.62,596.62 C1396.28,596.79 1397.95,596.96 1399.61,597.11 C1401.27,597.27 1402.94,597.43 1404.60,597.58 C1406.27,597.72 1407.93,597.87 1409.60,598.00 C1411.26,598.14 1412.93,598.27 1414.60,598.40 C1416.26,598.52 1417.93,598.64 1419.60,598.75 C1421.26,598.85 1422.93,598.96 1424.60,599.05 C1426.27,599.14 1427.94,599.23 1429.61,599.30 C1431.28,599.38 1432.95,599.45 1434.62,599.51 C1436.29,599.57 1437.96,599.63 1439.63,599.67 C1441.30,599.72 1442.97,599.76 1444.64,599.80 C1446.31,599.83 1447.98,599.86 1449.65,599.89 C1451.32,599.92 1452.99,599.94 1454.67,599.96 C1456.34,599.98 1458.01,599.99 1459.68,600.00 C1461.35,600.02 1463.02,600.03 1464.69,600.04 C1466.36,600.05 1468.04,600.05 1469.71,600.06 C1471.38,600.07 1473.05,600.07 1474.72,600.08 C1476.39,600.09 1478.06,600.09 1479.73,600.10 C1481.40,600.11 1483.08,600.12 1484.75,600.14 C1486.42,600.15 1488.09,600.16 1489.76,600.18 C1491.43,600.20 1493.10,600.22 1494.77,600.24 C1496.44,600.26 1498.12,600.28 1499.79,600.31 C1501.46,600.33 1503.13,600.36 1504.80,600.39 C1506.47,600.41 1508.14,600.44 1509.81,600.47 C1511.48,600.51 1513.15,600.54 1514.82,600.57 C1516.50,600.61 1518.17,600.64 1519.84,600.68 C1521.51,600.71 1523.18,600.75 1524.85,600.79 C1526.52,600.83 1528.19,600.87 1529.86,600.91 C1531.53,600.95 1533.20,600.99 1534.87,601.04 C1536.54,601.08 1538.21,601.12 1539.89,601.17 C1541.56,601.21 1543.23,601.26 1544.90,601.30 C1546.57,601.35 1548.24,601.40 1549.91,601.44 C1551.58,601.49 1553.25,601.54 1554.92,601.59 C1556.59,601.63 1558.26,601.68 1559.93,601.73 C1561.60,601.78 1563.27,601.83 1564.94,601.88 C1566.61,601.92 1568.28,601.97 1569.95,602.02 C1571.62,602.07 1573.30,602.12 1574.97,602.17 C1576.64,602.22 1578.31,602.27 1579.98,602.31 C1581.65,602.36 1583.32,602.41 1584.99,602.46 C1586.66,602.51 1589.16,602.58 1590.00,602.60 L1632.90,603.40 L1678.80,603.70" fill="none" stroke="#000" stroke-width="2.1" stroke-linejoin="round" stroke-linecap="round"/>
<use href="#fb" fill="#cccccc"/>
<g clip-path="url(#cb)" stroke-width="1"><line x1="100" x2="1753" y1="101.5" y2="101.5" stroke="#d7d7d7"/><line x1="100" x2="1753" y1="201.5" y2="201.5" stroke="#cfcfcf"/><line x1="100" x2="1753" y1="302.5" y2="302.5" stroke="#d7d7d7"/><line x1="100" x2="1753" y1="503.5" y2="503.5" stroke="#d8d8d8"/><line x1="100" x2="1753" y1="704.5" y2="704.5" stroke="#d7d7d7"/></g>
<path d="M173.50,817.80 C174.33,817.80 176.84,817.80 178.50,817.80 C180.17,817.80 181.84,817.80 183.51,817.80 C185.17,817.80 186.84,817.80 188.51,817.80 C190.18,817.80 191.85,817.80 193.51,817.80 C195.18,817.80 196.85,817.80 198.52,817.80 C200.19,817.80 201.85,817.80 203.52,817.80 C205.19,817.80 206.86,817.80 208.52,817.80 C210.19,817.79 211.86,817.78 213.53,817.77 C215.20,817.76 216.86,817.75 218.53,817.74 C220.20,817.73 221.87,817.72 223.54,817.71 C225.20,817.70 226.87,817.69 228.54,817.67 C230.21,817.66 231.87,817.65 233.54,817.63 C235.21,817.62 236.88,817.61 238.55,817.59 C240.21,817.58 241.88,817.57 243.55,817.55 C245.22,817.54 246.88,817.52 248.55,817.51 C250.22,817.50 251.89,817.48 253.56,817.47 C255.22,817.45 256.89,817.44 258.56,817.43 C260.23,817.41 261.89,817.40 263.56,817.39 C265.23,817.38 266.90,817.36 268.57,817.35 C270.23,817.34 271.90,817.33 273.57,817.32 C275.24,817.31 276.90,817.30 278.57,817.29 C280.24,817.28 281.91,817.27 283.58,817.26 C285.24,817.25 286.91,817.25 288.58,817.24 C290.25,817.24 291.92,817.23 293.58,817.22 C295.25,817.21 296.92,817.21 298.59,817.19 C300.25,817.18 301.92,817.17 303.59,817.14 C305.26,817.12 306.93,817.09 308.59,817.06 C310.26,817.02 311.93,816.98 313.59,816.92 C315.26,816.87 316.93,816.80 318.59,816.72 C320.26,816.65 321.93,816.56 323.59,816.46 C325.26,816.35 326.92,816.24 328.58,816.10 C330.24,815.97 331.91,815.82 333.56,815.65 C335.22,815.48 336.88,815.30 338.54,815.09 C340.19,814.88 341.84,814.66 343.49,814.41 C345.14,814.16 346.79,813.89 348.43,813.60 C350.07,813.31 351.71,812.99 353.34,812.65 C354.98,812.31 356.60,811.94 358.22,811.55 C359.84,811.16 361.46,810.74 363.07,810.30 C364.67,809.85 366.27,809.38 367.86,808.88 C369.45,808.37 371.04,807.85 372.61,807.28 C374.18,806.72 375.74,806.13 377.29,805.51 C378.83,804.89 380.37,804.24 381.89,803.55 C383.41,802.87 384.92,802.15 386.41,801.41 C387.90,800.66 389.38,799.89 390.84,799.08 C392.30,798.28 393.74,797.44 395.17,796.58 C396.60,795.71 398.01,794.82 399.40,793.90 C400.79,792.98 402.16,792.03 403.52,791.06 C404.87,790.09 406.21,789.09 407.53,788.07 C408.85,787.05 410.14,786.00 411.42,784.93 C412.70,783.86 413.97,782.77 415.21,781.66 C416.45,780.55 417.68,779.41 418.88,778.26 C420.09,777.11 421.28,775.94 422.45,774.75 C423.62,773.56 424.77,772.36 425.91,771.14 C427.04,769.91 428.16,768.68 429.26,767.43 C430.37,766.17 431.45,764.91 432.52,763.63 C433.59,762.35 434.65,761.06 435.69,759.76 C436.73,758.45 437.76,757.14 438.77,755.81 C439.79,754.49 440.79,753.15 441.77,751.81 C442.76,750.47 443.74,749.11 444.70,747.75 C445.66,746.39 446.62,745.02 447.56,743.65 C448.50,742.27 449.43,740.88 450.35,739.49 C451.27,738.10 452.18,736.70 453.08,735.30 C453.98,733.90 454.87,732.49 455.75,731.07 C456.63,729.65 457.51,728.23 458.37,726.81 C459.24,725.38 460.10,723.95 460.95,722.52 C461.80,721.08 462.64,719.64 463.48,718.20 C464.31,716.76 465.14,715.31 465.97,713.86 C466.79,712.41 467.61,710.96 468.43,709.50 C469.24,708.05 470.05,706.59 470.85,705.13 C471.65,703.67 472.45,702.20 473.25,700.73 C474.04,699.27 474.83,697.80 475.62,696.33 C476.40,694.86 477.18,693.38 477.96,691.91 C478.74,690.43 479.52,688.96 480.29,687.48 C481.06,686.00 481.83,684.52 482.59,683.04 C483.36,681.55 484.12,680.07 484.88,678.59 C485.65,677.10 486.41,675.62 487.17,674.14 C487.93,672.65 488.68,671.16 489.44,669.68 C490.20,668.19 490.96,666.71 491.72,665.22 C492.48,663.74 493.24,662.25 494.00,660.77 C494.76,659.28 495.52,657.80 496.28,656.32 C497.05,654.83 497.81,653.35 498.58,651.87 C499.35,650.39 500.12,648.91 500.89,647.44 C501.67,645.96 502.44,644.48 503.23,643.01 C504.01,641.54 504.79,640.07 505.59,638.60 C506.38,637.13 507.17,635.66 507.98,634.20 C508.78,632.74 509.59,631.28 510.41,629.83 C511.22,628.38 512.05,626.93 512.88,625.48 C513.72,624.04 514.56,622.60 515.41,621.16 C516.27,619.73 517.13,618.30 518.01,616.88 C518.88,615.47 519.77,614.05 520.67,612.65 C521.58,611.25 522.49,609.86 523.43,608.48 C524.37,607.10 525.32,605.73 526.29,604.37 C527.27,603.02 528.26,601.68 529.29,600.36 C530.31,599.05 531.35,597.74 532.43,596.47 C533.51,595.20 534.62,593.95 535.77,592.75 C536.92,591.55 538.10,590.36 539.34,589.25 C540.58,588.13 541.87,587.06 543.21,586.08 C544.56,585.09 545.95,584.15 547.40,583.34 C548.85,582.53 550.37,581.80 551.92,581.22 C553.48,580.63 555.10,580.15 556.72,579.84 C558.35,579.53 560.04,579.37 561.70,579.36 C563.36,579.35 565.04,579.51 566.67,579.79 C568.31,580.08 569.93,580.54 571.50,581.08 C573.08,581.62 574.61,582.29 576.10,583.04 C577.59,583.78 579.03,584.64 580.43,585.54 C581.83,586.44 583.19,587.42 584.51,588.44 C585.83,589.46 587.10,590.54 588.34,591.65 C589.59,592.76 590.80,593.91 591.98,595.09 C593.16,596.27 594.30,597.48 595.42,598.72 C596.54,599.95 597.64,601.21 598.71,602.48 C599.79,603.76 600.84,605.06 601.87,606.36 C602.91,607.67 603.93,608.99 604.94,610.32 C605.95,611.64 606.94,612.98 607.93,614.33 C608.92,615.67 609.90,617.02 610.87,618.37 C611.85,619.73 612.81,621.09 613.78,622.45 C614.75,623.81 615.71,625.17 616.67,626.53 C617.63,627.89 618.60,629.26 619.56,630.62 C620.53,631.98 621.49,633.34 622.46,634.69 C623.44,636.05 624.41,637.40 625.40,638.75 C626.38,640.09 627.37,641.43 628.38,642.77 C629.38,644.10 630.39,645.42 631.41,646.74 C632.44,648.06 633.47,649.37 634.51,650.67 C635.56,651.97 636.61,653.26 637.68,654.55 C638.74,655.83 639.81,657.11 640.90,658.37 C641.99,659.64 643.09,660.89 644.20,662.14 C645.31,663.38 646.43,664.62 647.56,665.84 C648.70,667.06 649.84,668.27 651.00,669.47 C652.16,670.67 653.33,671.86 654.51,673.04 C655.70,674.21 656.90,675.37 658.11,676.52 C659.32,677.67 660.54,678.80 661.78,679.92 C663.02,681.04 664.27,682.14 665.54,683.22 C666.81,684.30 668.09,685.36 669.41,686.39 C670.72,687.42 672.05,688.43 673.41,689.40 C674.77,690.36 676.15,691.30 677.56,692.18 C678.98,693.06 680.42,693.90 681.90,694.67 C683.38,695.43 684.90,696.15 686.45,696.76 C687.99,697.37 689.58,697.91 691.20,698.32 C692.81,698.73 694.46,699.03 696.11,699.20 C697.77,699.37 699.45,699.39 701.11,699.32 C702.77,699.25 704.44,699.05 706.08,698.78 C707.73,698.52 709.36,698.15 710.98,697.75 C712.59,697.34 714.19,696.86 715.78,696.36 C717.37,695.86 718.95,695.31 720.52,694.75 C722.09,694.20 723.66,693.61 725.22,693.02 C726.78,692.43 728.33,691.82 729.88,691.21 C731.43,690.59 732.97,689.96 734.51,689.33 C736.06,688.69 737.60,688.05 739.13,687.40 C740.67,686.75 742.20,686.10 743.74,685.45 C745.27,684.79 746.81,684.14 748.34,683.49 C749.88,682.83 751.41,682.18 752.95,681.53 C754.49,680.89 756.03,680.24 757.57,679.61 C759.11,678.98 760.66,678.35 762.21,677.74 C763.76,677.12 765.31,676.52 766.87,675.93 C768.43,675.34 770.00,674.76 771.57,674.21 C773.14,673.65 774.72,673.12 776.31,672.60 C777.89,672.07 779.49,671.58 781.07,671.07 C782.66,670.55 784.25,670.05 785.83,669.51 C787.40,668.96 788.97,668.40 790.53,667.79 C792.08,667.18 793.61,666.53 795.14,665.85 C796.66,665.18 798.17,664.46 799.67,663.74 C801.18,663.02 802.67,662.27 804.16,661.52 C805.64,660.76 807.13,660.00 808.60,659.22 C810.07,658.43 811.54,657.64 812.99,656.81 C814.43,655.98 815.87,655.14 817.28,654.25 C818.69,653.36 820.09,652.44 821.45,651.48 C822.82,650.53 824.16,649.54 825.47,648.51 C826.78,647.48 828.07,646.40 829.32,645.30 C830.57,644.20 831.79,643.06 832.98,641.89 C834.17,640.73 835.33,639.53 836.47,638.32 C837.62,637.10 838.74,635.86 839.84,634.61 C840.94,633.36 842.02,632.09 843.09,630.81 C844.15,629.52 845.20,628.23 846.24,626.92 C847.28,625.62 848.30,624.30 849.32,622.98 C850.33,621.65 851.34,620.32 852.33,618.98 C853.33,617.64 854.31,616.30 855.29,614.95 C856.27,613.60 857.24,612.24 858.21,610.88 C859.17,609.52 860.13,608.16 861.09,606.79 C862.04,605.42 863.00,604.05 863.94,602.68 C864.89,601.31 865.84,599.94 866.78,598.56 C867.73,597.19 868.67,595.81 869.61,594.44 C870.56,593.06 871.50,591.68 872.44,590.31 C873.38,588.93 874.32,587.55 875.27,586.18 C876.21,584.81 877.16,583.43 878.11,582.06 C879.06,580.69 880.01,579.32 880.97,577.96 C881.93,576.59 882.89,575.23 883.85,573.87 C884.82,572.51 885.79,571.15 886.77,569.80 C887.75,568.46 888.74,567.11 889.74,565.77 C890.73,564.44 891.74,563.10 892.76,561.78 C893.77,560.46 894.80,559.15 895.84,557.84 C896.88,556.54 897.93,555.25 899.01,553.97 C900.08,552.69 901.16,551.42 902.27,550.18 C903.38,548.93 904.50,547.69 905.65,546.49 C906.80,545.28 907.97,544.09 909.18,542.94 C910.38,541.79 911.61,540.66 912.88,539.57 C914.15,538.49 915.45,537.44 916.79,536.46 C918.14,535.48 919.52,534.53 920.96,533.69 C922.39,532.85 923.87,532.05 925.41,531.41 C926.94,530.77 928.53,530.20 930.15,529.84 C931.76,529.47 933.45,529.22 935.10,529.19 C936.75,529.16 938.44,529.34 940.07,529.65 C941.70,529.97 943.31,530.47 944.86,531.07 C946.41,531.66 947.92,532.42 949.37,533.22 C950.83,534.03 952.23,534.94 953.60,535.90 C954.96,536.85 956.27,537.89 957.56,538.95 C958.84,540.01 960.08,541.13 961.30,542.28 C962.51,543.42 963.69,544.60 964.85,545.80 C966.01,547.00 967.14,548.23 968.25,549.47 C969.36,550.71 970.45,551.98 971.52,553.25 C972.60,554.53 973.65,555.82 974.70,557.12 C975.74,558.42 976.77,559.74 977.79,561.06 C978.81,562.38 979.81,563.71 980.81,565.04 C981.81,566.38 982.80,567.72 983.78,569.07 C984.76,570.42 985.74,571.77 986.71,573.13 C987.68,574.48 988.64,575.84 989.61,577.20 C990.57,578.57 991.53,579.93 992.49,581.30 C993.44,582.66 994.40,584.03 995.35,585.40 C996.31,586.76 997.26,588.13 998.22,589.50 C999.17,590.87 1000.13,592.23 1001.09,593.60 C1002.05,594.96 1003.01,596.32 1003.98,597.68 C1004.94,599.04 1005.91,600.40 1006.88,601.76 C1007.85,603.12 1008.82,604.47 1009.78,605.83 C1010.75,607.19 1011.72,608.55 1012.69,609.91 C1013.65,611.27 1014.62,612.63 1015.58,613.99 C1016.54,615.35 1017.50,616.72 1018.45,618.09 C1019.41,619.45 1020.36,620.83 1021.30,622.20 C1022.25,623.57 1023.19,624.95 1024.12,626.33 C1025.06,627.71 1025.99,629.10 1026.91,630.49 C1027.84,631.87 1028.76,633.26 1029.68,634.65 C1030.60,636.04 1031.52,637.44 1032.44,638.83 C1033.36,640.22 1034.27,641.62 1035.19,643.01 C1036.10,644.40 1037.02,645.80 1037.94,647.19 C1038.85,648.58 1039.77,649.98 1040.69,651.37 C1041.61,652.76 1042.53,654.15 1043.45,655.54 C1044.38,656.93 1045.31,658.31 1046.24,659.70 C1047.17,661.08 1048.10,662.46 1049.04,663.84 C1049.98,665.22 1050.93,666.59 1051.88,667.97 C1052.82,669.34 1053.78,670.71 1054.73,672.07 C1055.69,673.44 1056.65,674.80 1057.62,676.16 C1058.58,677.52 1059.55,678.88 1060.53,680.23 C1061.50,681.58 1062.48,682.93 1063.47,684.28 C1064.45,685.63 1065.44,686.97 1066.44,688.31 C1067.43,689.65 1068.43,690.98 1069.44,692.31 C1070.44,693.64 1071.45,694.97 1072.46,696.30 C1073.48,697.62 1074.50,698.94 1075.52,700.25 C1076.55,701.57 1077.58,702.88 1078.62,704.19 C1079.66,705.49 1080.70,706.80 1081.75,708.09 C1082.79,709.39 1083.85,710.68 1084.91,711.97 C1085.97,713.26 1087.03,714.54 1088.10,715.82 C1089.18,717.10 1090.25,718.37 1091.34,719.64 C1092.42,720.90 1093.51,722.17 1094.61,723.42 C1095.71,724.68 1096.81,725.93 1097.92,727.17 C1099.03,728.42 1100.15,729.66 1101.27,730.89 C1102.40,732.12 1103.53,733.35 1104.67,734.56 C1105.81,735.78 1106.95,737.00 1108.10,738.20 C1109.26,739.41 1110.42,740.61 1111.58,741.80 C1112.75,742.99 1113.93,744.17 1115.11,745.35 C1116.29,746.52 1117.48,747.69 1118.68,748.85 C1119.88,750.01 1121.09,751.16 1122.30,752.31 C1123.52,753.45 1124.74,754.58 1125.97,755.71 C1127.20,756.83 1128.44,757.95 1129.69,759.06 C1130.94,760.16 1132.19,761.26 1133.46,762.35 C1134.72,763.43 1136.00,764.51 1137.28,765.57 C1138.56,766.64 1139.85,767.70 1141.16,768.74 C1142.46,769.78 1143.77,770.81 1145.09,771.83 C1146.41,772.85 1147.73,773.86 1149.07,774.86 C1150.41,775.86 1151.76,776.84 1153.11,777.81 C1154.47,778.78 1155.84,779.74 1157.21,780.68 C1158.59,781.62 1159.97,782.55 1161.37,783.46 C1162.76,784.38 1164.17,785.28 1165.58,786.16 C1167.00,787.05 1168.42,787.92 1169.85,788.77 C1171.29,789.62 1172.73,790.46 1174.18,791.28 C1175.64,792.10 1177.10,792.90 1178.57,793.68 C1180.04,794.47 1181.52,795.23 1183.01,795.98 C1184.50,796.73 1186.01,797.46 1187.52,798.17 C1189.03,798.87 1190.54,799.57 1192.07,800.23 C1193.60,800.90 1195.14,801.55 1196.68,802.18 C1198.23,802.80 1199.78,803.41 1201.34,803.99 C1202.91,804.58 1204.48,805.14 1206.06,805.67 C1207.64,806.21 1209.22,806.73 1210.82,807.22 C1212.41,807.71 1214.01,808.17 1215.62,808.62 C1217.23,809.06 1218.84,809.48 1220.46,809.88 C1222.08,810.28 1223.71,810.66 1225.33,811.01 C1226.96,811.37 1228.60,811.70 1230.24,812.02 C1231.87,812.33 1233.52,812.62 1235.16,812.89 C1236.81,813.17 1238.46,813.42 1240.11,813.66 C1241.76,813.90 1243.41,814.12 1245.07,814.32 C1246.72,814.53 1248.38,814.72 1250.04,814.89 C1251.70,815.06 1253.36,815.22 1255.02,815.36 C1256.68,815.51 1258.34,815.64 1260.01,815.77 C1261.67,815.89 1263.33,815.99 1265.00,816.10 C1266.66,816.20 1268.33,816.29 1269.99,816.37 C1271.66,816.45 1273.33,816.52 1274.99,816.59 C1276.66,816.66 1278.33,816.72 1279.99,816.78 C1281.66,816.84 1283.33,816.89 1284.99,816.94 C1286.66,816.99 1288.33,817.03 1290.00,817.08 C1291.66,817.13 1293.33,817.17 1295.00,817.21 C1296.66,817.26 1298.33,817.30 1300.00,817.35 C1301.67,817.40 1304.17,817.48 1305.00,817.50 L1360.00,817.80 L1410.00,817.90 L1679.80,817.90" fill="none" stroke="#000" stroke-width="2.1" stroke-linejoin="round" stroke-linecap="round"/>
<g fill="none" stroke="#555" stroke-width="1.4">
<path d="M99.4,20.4 H1753.6 V937.7 H99.4 Z"/>
</g>
<g stroke="#000" stroke-width="1.4">
<line x1="94" x2="99" y1="401.6" y2="401.6"/>
<line x1="94" x2="99" y1="603.6" y2="603.6"/>
<line x1="94" x2="99" y1="812.4" y2="812.4"/>
<line x1="234.6" x2="234.6" y1="938" y2="943"/>
<line x1="562.9" x2="562.9" y1="938" y2="943"/>
<line x1="891.2" x2="891.2" y1="938" y2="943"/>
<line x1="1289.8" x2="1289.8" y1="938" y2="943"/>
<line x1="1618.2" x2="1618.2" y1="938" y2="943"/>
</g>
<g class="t"><text transform="translate(90.6,410.3) scale(0.8324,1)" text-anchor="end" font-size="25" stroke="#000" stroke-width="0.35">70</text><text transform="translate(90.6,615.0) scale(0.8312,1)" text-anchor="end" font-size="25" stroke="#000" stroke-width="0.35">30</text><text transform="translate(90.6,819.1) scale(0.8556,1)" text-anchor="end" font-size="25" stroke="#000" stroke-width="0.35">0</text>
<text transform="translate(236.15,963.7) scale(0.7724,1)" text-anchor="middle" font-size="25" stroke="#000" stroke-width="0.35">Feb-15</text><text transform="translate(560.35,963.7) scale(0.8064,1)" text-anchor="middle" font-size="25" stroke="#000" stroke-width="0.35">Mar-01</text><text transform="translate(889.35,963.7) scale(0.8213,1)" text-anchor="middle" font-size="25" stroke="#000" stroke-width="0.35">May-15</text><text transform="translate(1290.3,963.7) scale(0.8,1)" text-anchor="middle" font-size="25" stroke="#000" stroke-width="0.35">Apr-01</text><text transform="translate(1621.3,963.7) scale(0.8337,1)" text-anchor="middle" font-size="25" stroke="#000" stroke-width="0.35">Apr-15</text>
<text transform="translate(925.2,1002.3) scale(0.78,1)" text-anchor="middle" font-size="32.8" font-weight="bold">Date</text>
<text transform="translate(41.2,481.5) rotate(-90) scale(0.786,1)" text-anchor="middle" font-size="31.7" font-weight="bold">NAA concentration (mg·L<tspan font-size="18" dy="-10.6">-1</tspan><tspan dy="10.6">)</tspan></text>
</g>
</svg>
</body></html>
